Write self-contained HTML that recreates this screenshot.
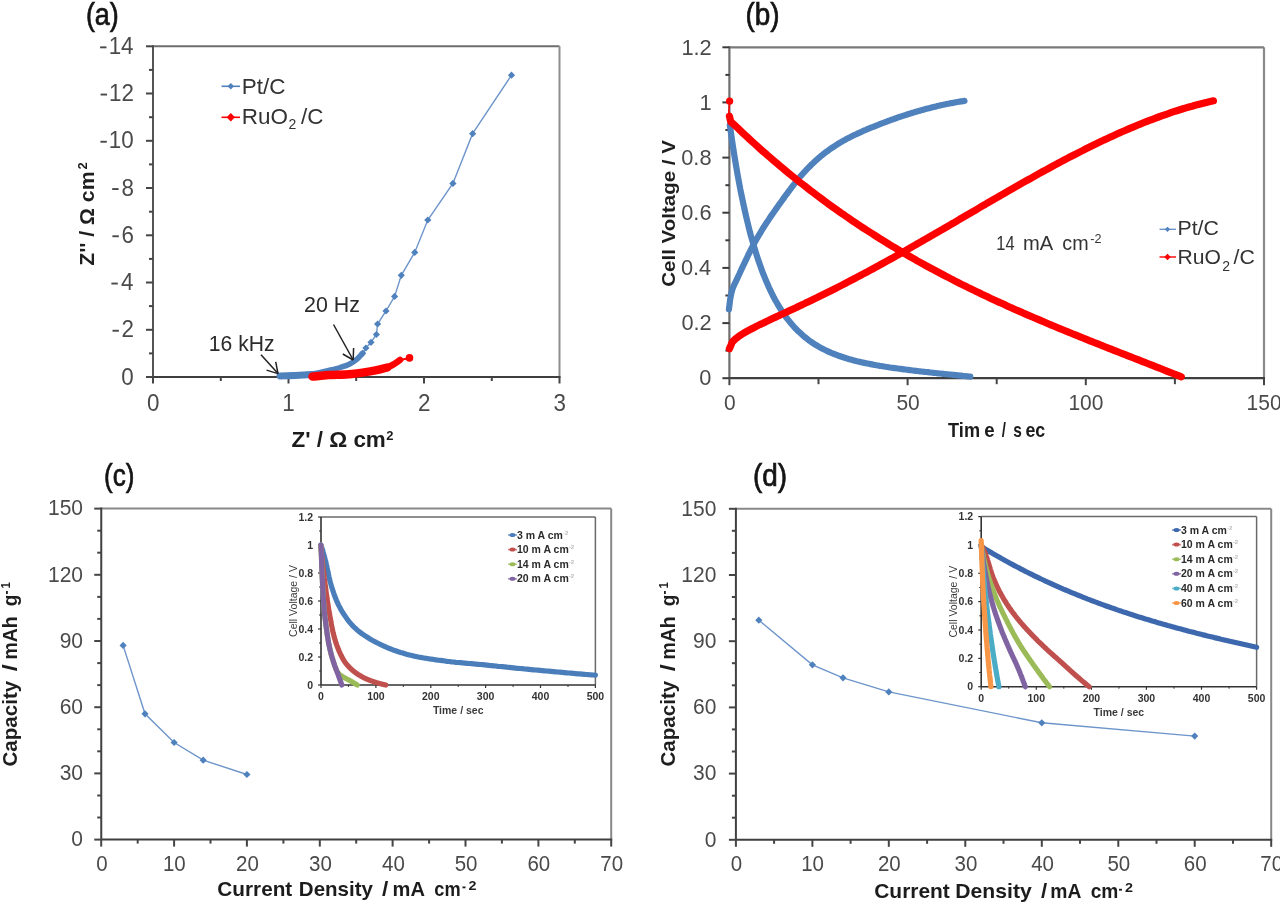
<!DOCTYPE html><html><head><meta charset="utf-8"><style>html,body{margin:0;padding:0;background:#fff;overflow:hidden;}svg{display:block;filter:blur(0.45px);}text{font-family:"Liberation Sans", sans-serif;}</style></head><body>
<svg width="1280" height="903" viewBox="0 0 1280 903">
<rect width="1280" height="903" fill="#fff"/>
<line x1="153" y1="46.3" x2="559.5" y2="46.3" stroke="#6e6e6e" stroke-width="2"/>
<line x1="559.5" y1="46.3" x2="559.5" y2="377" stroke="#8e8e8e" stroke-width="2"/>
<line x1="153" y1="45.3" x2="153" y2="377" stroke="#555" stroke-width="2"/>
<line x1="153" y1="377" x2="560.5" y2="377" stroke="#3f3f3f" stroke-width="2"/>
<line x1="146" y1="377.0" x2="153" y2="377.0" stroke="#454545" stroke-width="2"/>
<line x1="146" y1="329.8" x2="153" y2="329.8" stroke="#454545" stroke-width="2"/>
<line x1="146" y1="282.5" x2="153" y2="282.5" stroke="#454545" stroke-width="2"/>
<line x1="146" y1="235.3" x2="153" y2="235.3" stroke="#454545" stroke-width="2"/>
<line x1="146" y1="188.0" x2="153" y2="188.0" stroke="#454545" stroke-width="2"/>
<line x1="146" y1="140.8" x2="153" y2="140.8" stroke="#454545" stroke-width="2"/>
<line x1="146" y1="93.5" x2="153" y2="93.5" stroke="#454545" stroke-width="2"/>
<line x1="146" y1="46.3" x2="153" y2="46.3" stroke="#454545" stroke-width="2"/>
<line x1="149" y1="353.4" x2="153" y2="353.4" stroke="#454545" stroke-width="2"/>
<line x1="149" y1="306.1" x2="153" y2="306.1" stroke="#454545" stroke-width="2"/>
<line x1="149" y1="258.9" x2="153" y2="258.9" stroke="#454545" stroke-width="2"/>
<line x1="149" y1="211.7" x2="153" y2="211.7" stroke="#454545" stroke-width="2"/>
<line x1="149" y1="164.4" x2="153" y2="164.4" stroke="#454545" stroke-width="2"/>
<line x1="149" y1="117.2" x2="153" y2="117.2" stroke="#454545" stroke-width="2"/>
<line x1="149" y1="69.9" x2="153" y2="69.9" stroke="#454545" stroke-width="2"/>
<line x1="153.0" y1="377" x2="153.0" y2="383.5" stroke="#454545" stroke-width="2"/>
<line x1="288.5" y1="377" x2="288.5" y2="383.5" stroke="#454545" stroke-width="2"/>
<line x1="424.0" y1="377" x2="424.0" y2="383.5" stroke="#454545" stroke-width="2"/>
<line x1="559.5" y1="377" x2="559.5" y2="383.5" stroke="#454545" stroke-width="2"/>
<line x1="220.8" y1="377" x2="220.8" y2="381" stroke="#454545" stroke-width="2"/>
<line x1="356.2" y1="377" x2="356.2" y2="381" stroke="#454545" stroke-width="2"/>
<line x1="491.8" y1="377" x2="491.8" y2="381" stroke="#454545" stroke-width="2"/>
<text transform="translate(133.78,384.50) scale(1,1.04)" font-size="22.4" text-anchor="end" fill="#4a4a4a">0</text>
<text transform="translate(134.03,337.26) scale(1,1.04)" font-size="22.4" text-anchor="end" fill="#4a4a4a">2</text>
<rect x="112.5" y="329.8" width="6.4" height="1.9" fill="#4a4a4a"/>
<text transform="translate(133.56,290.01) scale(1,1.04)" font-size="22.4" text-anchor="end" fill="#4a4a4a">4</text>
<rect x="111.4" y="282.6" width="6.4" height="1.9" fill="#4a4a4a"/>
<text transform="translate(133.88,242.77) scale(1,1.04)" font-size="22.4" text-anchor="end" fill="#4a4a4a">6</text>
<rect x="112.4" y="235.3" width="6.4" height="1.9" fill="#4a4a4a"/>
<text transform="translate(133.87,195.53) scale(1,1.04)" font-size="22.4" text-anchor="end" fill="#4a4a4a">8</text>
<rect x="112.2" y="188.1" width="6.4" height="1.9" fill="#4a4a4a"/>
<text transform="translate(133.78,148.29) scale(1,1.04)" font-size="22.4" text-anchor="end" fill="#4a4a4a">10</text>
<rect x="100.4" y="140.8" width="6.4" height="1.9" fill="#4a4a4a"/>
<text transform="translate(134.03,101.04) scale(1,1.04)" font-size="22.4" text-anchor="end" fill="#4a4a4a">12</text>
<rect x="100.6" y="93.6" width="6.4" height="1.9" fill="#4a4a4a"/>
<text transform="translate(133.56,53.80) scale(1,1.04)" font-size="22.4" text-anchor="end" fill="#4a4a4a">14</text>
<rect x="100.1" y="46.4" width="6.4" height="1.9" fill="#4a4a4a"/>
<text transform="translate(146.97,411.00) scale(1,1.04)" font-size="22.4" text-anchor="start" fill="#4a4a4a">0</text>
<text transform="translate(282.16,411.00) scale(1,1.04)" font-size="22.4" text-anchor="start" fill="#4a4a4a">1</text>
<text transform="translate(417.97,411.00) scale(1,1.04)" font-size="22.4" text-anchor="start" fill="#4a4a4a">2</text>
<text transform="translate(553.54,411.00) scale(1,1.04)" font-size="22.4" text-anchor="start" fill="#4a4a4a">3</text>
<text transform="translate(291.43,446.70) scale(1,1.03)" font-size="21" text-anchor="start" fill="#1c1c1c" font-weight="bold" textLength="94.4" lengthAdjust="spacingAndGlyphs">Z&#39; / Ω cm</text>
<text x="386.2" y="439.5" font-size="13" text-anchor="start" fill="#1c1c1c" font-weight="bold">2</text>
<text transform="translate(94.0,265.7) rotate(-90)" font-size="21" text-anchor="start" fill="#1e1e1e" font-weight="bold" textLength="94.2" lengthAdjust="spacingAndGlyphs">Z&#39;&#39; / Ω cm</text>
<text transform="translate(86.8,169.6) rotate(-90)" font-size="13" text-anchor="start" fill="#1c1c1c" font-weight="bold">2</text>
<text transform="translate(85.88,24.90) scale(1,1.03)" font-size="30" text-anchor="start" fill="#141414" stroke="#141414" stroke-width="0.7" textLength="32.9" lengthAdjust="spacingAndGlyphs">(a)</text>
<path d="M511.5,75.2 L472.6,133.7 L452.9,183.4 L427.8,220.0 L414.7,252.4 L401.3,275.3 L394.6,296.4 L386.0,311.0 L377.6,324.0 L376.4,334.5 L371.0,342.3 L365.9,348.0 L362.6,353.3" fill="none" stroke="#6d95cb" stroke-width="1.4"/>
<path d="M511.5,71.6 L515.1,75.2 L511.5,78.8 L507.9,75.2Z" fill="#4f81bd"/>
<path d="M472.6,130.1 L476.2,133.7 L472.6,137.3 L469.0,133.7Z" fill="#4f81bd"/>
<path d="M452.9,179.8 L456.5,183.4 L452.9,187.0 L449.3,183.4Z" fill="#4f81bd"/>
<path d="M427.8,216.4 L431.4,220.0 L427.8,223.6 L424.2,220.0Z" fill="#4f81bd"/>
<path d="M414.7,248.8 L418.3,252.4 L414.7,256.0 L411.1,252.4Z" fill="#4f81bd"/>
<path d="M401.3,271.7 L404.9,275.3 L401.3,278.9 L397.7,275.3Z" fill="#4f81bd"/>
<path d="M394.6,292.8 L398.2,296.4 L394.6,300.0 L391.0,296.4Z" fill="#4f81bd"/>
<path d="M386.0,307.4 L389.6,311.0 L386.0,314.6 L382.4,311.0Z" fill="#4f81bd"/>
<path d="M377.6,320.4 L381.2,324.0 L377.6,327.6 L374.0,324.0Z" fill="#4f81bd"/>
<path d="M376.4,330.9 L380.0,334.5 L376.4,338.1 L372.8,334.5Z" fill="#4f81bd"/>
<path d="M371.0,338.7 L374.6,342.3 L371.0,345.9 L367.4,342.3Z" fill="#4f81bd"/>
<path d="M365.9,344.4 L369.5,348.0 L365.9,351.6 L362.3,348.0Z" fill="#4f81bd"/>
<path d="M362.6,349.7 L366.2,353.3 L362.6,356.9 L359.0,353.3Z" fill="#4f81bd"/>
<path d="M362.6,353.3 C361.6,354.3 358.9,357.5 356.7,359.3 C354.5,361.1 352.4,362.6 349.7,364.0 C347.0,365.4 343.8,366.4 340.3,367.5 C336.8,368.6 333.9,369.2 328.6,370.4 C323.3,371.6 315.1,373.8 308.7,374.6 C302.3,375.4 294.8,375.2 290.0,375.4 C285.2,375.6 281.7,375.9 280.0,376.0" fill="none" stroke="#4f81bd" stroke-width="5.5" stroke-linecap="round"/>
<path d="M280.0,376.0 L295.0,375.5 L312.0,374.6" fill="none" stroke="#4f81bd" stroke-width="7" stroke-linecap="round"/>
<path d="M312.5,376.6 C315.2,376.4 322.0,375.5 328.6,375.1 C335.2,374.7 344.2,374.8 352.0,374.0 C359.8,373.2 369.6,371.5 375.5,370.4 C381.4,369.3 385.2,368.0 387.2,367.5" fill="none" stroke="#ff0000" stroke-width="8.5" stroke-linecap="round"/>
<path d="M375.5,370.4 C377.4,369.9 384.1,368.6 387.2,367.5 C390.3,366.4 392.0,365.3 394.2,364.0 C396.4,362.7 399.1,360.6 400.1,359.9" fill="none" stroke="#ff0000" stroke-width="6.5" stroke-linecap="round"/>
<circle cx="409.5" cy="357.9" r="3.8" fill="#ff0000"/>
<line x1="400.1" y1="359.9" x2="409.5" y2="357.9" stroke="#ff0000" stroke-width="2"/>
<text transform="translate(208.79,350.80) scale(1,1.03)" font-size="22" text-anchor="start" fill="#2b2b2b" textLength="65.7" lengthAdjust="spacingAndGlyphs">16 kHz</text>
<text transform="translate(304.12,311.80) scale(1,1.03)" font-size="22" text-anchor="start" fill="#2b2b2b" textLength="55.9" lengthAdjust="spacingAndGlyphs">20 Hz</text>
<line x1="261" y1="354.7" x2="278" y2="373.6" stroke="#222" stroke-width="1.5"/><line x1="278" y1="373.6" x2="275.7" y2="361.8" stroke="#222" stroke-width="1.5"/><line x1="278" y1="373.6" x2="266.5" y2="370.1" stroke="#222" stroke-width="1.5"/>
<line x1="333.5" y1="324.5" x2="353.2" y2="360" stroke="#222" stroke-width="1.5"/><line x1="353.2" y1="360" x2="353.6" y2="348.0" stroke="#222" stroke-width="1.5"/><line x1="353.2" y1="360" x2="342.8" y2="354.0" stroke="#222" stroke-width="1.5"/>
<line x1="221.5" y1="86.3" x2="240" y2="86.3" stroke="#4f81bd" stroke-width="1.6"/>
<path d="M230.8,83.1 L234.0,86.3 L230.8,89.5 L227.6,86.3Z" fill="#4f81bd"/>
<text transform="translate(241.76,94.00) scale(1,1.03)" font-size="22" text-anchor="start" fill="#333" textLength="43.7" lengthAdjust="spacingAndGlyphs">Pt/C</text>
<line x1="221.5" y1="117.3" x2="240" y2="117.3" stroke="#ff0000" stroke-width="1.6"/>
<path d="M230.8,113.1 L235.0,117.3 L230.8,121.5 L226.6,117.3Z" fill="#ff0000"/>
<text transform="translate(241.76,123.70) scale(1,1.03)" font-size="22" text-anchor="start" fill="#333" textLength="46.2" lengthAdjust="spacingAndGlyphs">RuO</text>
<text transform="translate(288.59,129.00) scale(1,1.03)" font-size="14" text-anchor="start" fill="#333" textLength="7.8" lengthAdjust="spacingAndGlyphs">2</text>
<text transform="translate(301.10,123.70) scale(1,1.03)" font-size="22" text-anchor="start" fill="#333" textLength="22.4" lengthAdjust="spacingAndGlyphs">/C</text>
<line x1="729.4" y1="47.3" x2="1264" y2="47.3" stroke="#7a7a7a" stroke-width="2.2"/>
<line x1="1264" y1="47.3" x2="1264" y2="378.2" stroke="#8a8a8a" stroke-width="2.2"/>
<line x1="729.4" y1="46.3" x2="729.4" y2="378.2" stroke="#6e6e6e" stroke-width="2.2"/>
<line x1="729.4" y1="378.2" x2="1265" y2="378.2" stroke="#3f3f3f" stroke-width="2.2"/>
<line x1="722.4" y1="378.2" x2="729.4" y2="378.2" stroke="#3a3a3a" stroke-width="2"/>
<line x1="722.4" y1="323.1" x2="729.4" y2="323.1" stroke="#3a3a3a" stroke-width="2"/>
<line x1="722.4" y1="267.9" x2="729.4" y2="267.9" stroke="#3a3a3a" stroke-width="2"/>
<line x1="722.4" y1="212.7" x2="729.4" y2="212.7" stroke="#3a3a3a" stroke-width="2"/>
<line x1="722.4" y1="157.6" x2="729.4" y2="157.6" stroke="#3a3a3a" stroke-width="2"/>
<line x1="722.4" y1="102.4" x2="729.4" y2="102.4" stroke="#3a3a3a" stroke-width="2"/>
<line x1="722.4" y1="47.3" x2="729.4" y2="47.3" stroke="#3a3a3a" stroke-width="2"/>
<line x1="725.4" y1="350.6" x2="729.4" y2="350.6" stroke="#3a3a3a" stroke-width="2"/>
<line x1="725.4" y1="295.5" x2="729.4" y2="295.5" stroke="#3a3a3a" stroke-width="2"/>
<line x1="725.4" y1="240.3" x2="729.4" y2="240.3" stroke="#3a3a3a" stroke-width="2"/>
<line x1="725.4" y1="185.2" x2="729.4" y2="185.2" stroke="#3a3a3a" stroke-width="2"/>
<line x1="725.4" y1="130.0" x2="729.4" y2="130.0" stroke="#3a3a3a" stroke-width="2"/>
<line x1="725.4" y1="74.9" x2="729.4" y2="74.9" stroke="#3a3a3a" stroke-width="2"/>
<line x1="729.4" y1="378.2" x2="729.4" y2="385.2" stroke="#454545" stroke-width="2"/>
<line x1="907.6" y1="378.2" x2="907.6" y2="385.2" stroke="#454545" stroke-width="2"/>
<line x1="1085.8" y1="378.2" x2="1085.8" y2="385.2" stroke="#454545" stroke-width="2"/>
<line x1="1264.0" y1="378.2" x2="1264.0" y2="385.2" stroke="#454545" stroke-width="2"/>
<line x1="818.5" y1="378.2" x2="818.5" y2="384.2" stroke="#454545" stroke-width="2"/>
<line x1="996.7" y1="378.2" x2="996.7" y2="384.2" stroke="#454545" stroke-width="2"/>
<line x1="1174.9" y1="378.2" x2="1174.9" y2="384.2" stroke="#454545" stroke-width="2"/>
<text transform="translate(711.45,385.40) scale(1,1.04)" font-size="21.8" text-anchor="end" fill="#4a4a4a">0</text>
<text transform="translate(711.70,330.25) scale(1,1.04)" font-size="21.8" text-anchor="end" fill="#4a4a4a">0.2</text>
<text transform="translate(711.24,275.10) scale(1,1.04)" font-size="21.8" text-anchor="end" fill="#4a4a4a">0.4</text>
<text transform="translate(711.56,219.95) scale(1,1.04)" font-size="21.8" text-anchor="end" fill="#4a4a4a">0.6</text>
<text transform="translate(711.55,164.80) scale(1,1.04)" font-size="21.8" text-anchor="end" fill="#4a4a4a">0.8</text>
<text transform="translate(711.66,109.65) scale(1,1.04)" font-size="21.8" text-anchor="end" fill="#4a4a4a">1</text>
<text transform="translate(711.70,54.50) scale(1,1.04)" font-size="21.8" text-anchor="end" fill="#4a4a4a">1.2</text>
<text transform="translate(724.06,409.60) scale(1,1.04)" font-size="21" text-anchor="start" fill="#4a4a4a">0</text>
<text transform="translate(896.41,409.60) scale(1,1.04)" font-size="21" text-anchor="start" fill="#4a4a4a">50</text>
<text transform="translate(1068.39,409.60) scale(1,1.04)" font-size="21" text-anchor="start" fill="#4a4a4a">100</text>
<text transform="translate(1246.59,409.60) scale(1,1.04)" font-size="21" text-anchor="start" fill="#4a4a4a">150</text>
<text transform="translate(948.10,437.20) scale(1,1.03)" font-size="20" text-anchor="start" fill="#1c1c1c" font-weight="bold" textLength="31.9" lengthAdjust="spacingAndGlyphs">Tim</text>
<text transform="translate(984.27,437.20) scale(1,1.03)" font-size="20" text-anchor="start" fill="#1c1c1c" font-weight="bold" textLength="10.4" lengthAdjust="spacingAndGlyphs">e</text>
<text transform="translate(1001.65,437.20) scale(1,1.03)" font-size="20" text-anchor="start" fill="#1c1c1c" font-weight="bold" textLength="4.2" lengthAdjust="spacingAndGlyphs">/</text>
<text transform="translate(1013.36,437.20) scale(1,1.03)" font-size="20" text-anchor="start" fill="#1c1c1c" font-weight="bold" textLength="8.6" lengthAdjust="spacingAndGlyphs">s</text>
<text transform="translate(1025.40,437.20) scale(1,1.03)" font-size="20" text-anchor="start" fill="#1c1c1c" font-weight="bold" textLength="19.8" lengthAdjust="spacingAndGlyphs">ec</text>
<text transform="translate(674.8,286.8) rotate(-90)" font-size="19" text-anchor="start" fill="#1e1e1e" font-weight="bold" textLength="146.7" lengthAdjust="spacingAndGlyphs">Cell Voltage / V</text>
<text transform="translate(745.47,24.60) scale(1,1.03)" font-size="30" text-anchor="start" fill="#141414" stroke="#141414" stroke-width="0.7" textLength="34.1" lengthAdjust="spacingAndGlyphs">(b)</text>
<path d="M729.8,124.7 L731.3,135.3 L732.8,145.5 L734.3,155.1 L735.8,164.3 L737.3,173.0 L738.8,181.3 L740.3,189.3 L741.9,196.9 L743.4,204.1 L744.9,211.0 L746.4,217.6 L747.9,223.9 L749.4,229.9 L750.9,235.6 L752.5,241.1 L754.0,246.3 L755.5,251.3 L757.0,256.1 L758.5,260.7 L760.0,265.1 L761.5,269.3 L763.0,273.3 L764.6,277.1 L766.1,280.8 L767.6,284.3 L769.1,287.7 L770.6,290.9 L772.1,294.0 L773.6,297.0 L775.1,299.8 L776.7,302.5 L778.2,305.1 L779.7,307.6 L781.2,310.0 L782.7,312.3 L784.2,314.5 L785.7,316.7 L787.3,318.7 L788.8,320.6 L790.3,322.5 L791.8,324.3 L793.3,326.0 L794.8,327.7 L796.3,329.2 L797.8,330.8 L799.4,332.2 L800.9,333.6 L802.4,335.0 L803.9,336.3 L805.4,337.5 L806.9,338.7 L808.4,339.9 L809.9,341.0 L811.5,342.1 L813.0,343.1 L814.5,344.1 L816.0,345.0 L817.5,345.9 L819.0,346.8 L820.5,347.7 L822.1,348.5 L823.6,349.3 L825.1,350.0 L826.6,350.7 L828.1,351.5 L829.6,352.1 L831.1,352.8 L832.6,353.4 L834.2,354.0 L835.7,354.6 L837.2,355.2 L838.7,355.8 L840.2,356.3 L841.7,356.8 L843.2,357.3 L844.7,357.8 L846.3,358.3 L847.8,358.7 L849.3,359.2 L850.8,359.6 L852.3,360.0 L853.8,360.4 L855.3,360.8 L856.8,361.2 L858.4,361.5 L859.9,361.9 L861.4,362.2 L862.9,362.6 L864.4,362.9 L865.9,363.2 L867.4,363.5 L869.0,363.8 L870.5,364.1 L872.0,364.4 L873.5,364.7 L875.0,365.0 L876.5,365.3 L878.0,365.5 L879.5,365.8 L881.1,366.0 L882.6,366.3 L884.1,366.5 L885.6,366.8 L887.1,367.0 L888.6,367.2 L890.1,367.5 L891.6,367.7 L893.2,367.9 L894.7,368.1 L896.2,368.3 L897.7,368.5 L899.2,368.7 L900.7,368.9 L902.2,369.1 L903.8,369.3 L905.3,369.5 L906.8,369.7 L908.3,369.9 L909.8,370.1 L911.3,370.3 L912.8,370.5 L914.3,370.7 L915.9,370.8 L917.4,371.0 L918.9,371.2 L920.4,371.4 L921.9,371.5 L923.4,371.7 L924.9,371.9 L926.4,372.0 L928.0,372.2 L929.5,372.4 L931.0,372.5 L932.5,372.7 L934.0,372.9 L935.5,373.0 L937.0,373.2 L938.6,373.4 L940.1,373.5 L941.6,373.7 L943.1,373.8 L944.6,374.0 L946.1,374.2 L947.6,374.3 L949.1,374.5 L950.7,374.6 L952.2,374.8 L953.7,374.9 L955.2,375.1 L956.7,375.2 L958.2,375.4 L959.7,375.6 L961.2,375.7 L962.8,375.9 L964.3,376.0 L965.8,376.2 L967.3,376.3 L968.8,376.5 L970.3,376.6" fill="none" stroke="#4f81bd" stroke-width="6.2" stroke-linecap="round" stroke-linejoin="round"/>
<path d="M728.9,309.3 L730.1,299.8 L731.3,293.3 L732.5,289.0 L733.6,286.1 L734.8,283.6 L736.0,281.1 L737.2,278.6 L738.4,276.0 L739.6,273.5 L740.7,271.0 L741.9,268.4 L743.1,265.9 L744.3,263.4 L745.5,260.9 L746.7,258.4 L747.8,255.9 L749.0,253.5 L750.2,251.1 L751.4,248.8 L752.6,246.5 L753.8,244.3 L754.9,242.1 L756.1,239.9 L757.3,237.9 L758.5,235.8 L759.7,233.8 L760.9,231.8 L762.0,229.9 L763.2,228.0 L764.4,226.1 L765.6,224.3 L766.8,222.4 L768.0,220.7 L769.2,218.9 L770.3,217.1 L771.5,215.4 L772.7,213.7 L773.9,212.0 L775.1,210.3 L776.3,208.6 L777.4,207.0 L778.6,205.3 L779.8,203.6 L781.0,202.0 L782.2,200.3 L783.4,198.7 L784.5,197.0 L785.7,195.4 L786.9,193.8 L788.1,192.2 L789.3,190.6 L790.5,189.0 L791.6,187.4 L792.8,185.9 L794.0,184.4 L795.2,182.9 L796.4,181.4 L797.6,179.9 L798.8,178.5 L799.9,177.0 L801.1,175.6 L802.3,174.3 L803.5,172.9 L804.7,171.6 L805.9,170.4 L807.0,169.1 L808.2,167.9 L809.4,166.7 L810.6,165.5 L811.8,164.3 L813.0,163.2 L814.1,162.1 L815.3,161.0 L816.5,159.9 L817.7,158.9 L818.9,157.8 L820.1,156.8 L821.2,155.8 L822.4,154.9 L823.6,153.9 L824.8,153.0 L826.0,152.1 L827.2,151.2 L828.3,150.4 L829.5,149.5 L830.7,148.7 L831.9,147.9 L833.1,147.1 L834.3,146.3 L835.5,145.5 L836.6,144.8 L837.8,144.0 L839.0,143.3 L840.2,142.6 L841.4,141.9 L842.6,141.2 L843.7,140.5 L844.9,139.9 L846.1,139.2 L847.3,138.6 L848.5,138.0 L849.7,137.4 L850.8,136.8 L852.0,136.2 L853.2,135.6 L854.4,135.0 L855.6,134.5 L856.8,133.9 L857.9,133.4 L859.1,132.8 L860.3,132.3 L861.5,131.8 L862.7,131.2 L863.9,130.7 L865.1,130.2 L866.2,129.7 L867.4,129.2 L868.6,128.7 L869.8,128.2 L871.0,127.7 L872.2,127.2 L873.3,126.8 L874.5,126.3 L875.7,125.8 L876.9,125.3 L878.1,124.9 L879.3,124.4 L880.4,123.9 L881.6,123.5 L882.8,123.0 L884.0,122.6 L885.2,122.1 L886.4,121.7 L887.5,121.2 L888.7,120.8 L889.9,120.4 L891.1,119.9 L892.3,119.5 L893.5,119.1 L894.6,118.7 L895.8,118.3 L897.0,117.8 L898.2,117.4 L899.4,117.0 L900.6,116.6 L901.8,116.2 L902.9,115.8 L904.1,115.5 L905.3,115.1 L906.5,114.7 L907.7,114.3 L908.9,113.9 L910.0,113.6 L911.2,113.2 L912.4,112.8 L913.6,112.5 L914.8,112.1 L916.0,111.8 L917.1,111.4 L918.3,111.1 L919.5,110.7 L920.7,110.4 L921.9,110.1 L923.1,109.7 L924.2,109.4 L925.4,109.1 L926.6,108.8 L927.8,108.5 L929.0,108.2 L930.2,107.9 L931.4,107.6 L932.5,107.3 L933.7,107.0 L934.9,106.7 L936.1,106.4 L937.3,106.1 L938.5,105.8 L939.6,105.6 L940.8,105.3 L942.0,105.0 L943.2,104.8 L944.4,104.5 L945.6,104.3 L946.7,104.0 L947.9,103.8 L949.1,103.6 L950.3,103.3 L951.5,103.1 L952.7,102.9 L953.8,102.7 L955.0,102.4 L956.2,102.2 L957.4,102.0 L958.6,101.8 L959.8,101.6 L960.9,101.4 L962.1,101.3 L963.3,101.1 L964.5,100.9" fill="none" stroke="#4f81bd" stroke-width="6.2" stroke-linecap="round" stroke-linejoin="round"/>
<path d="M729.4,116.2 L730.8,121.8 L734.7,125.3 L737.6,127.9 L740.4,130.6 L743.2,133.3 L746.0,135.9 L748.8,138.5 L751.6,141.1 L754.4,143.6 L757.2,146.2 L760.0,148.7 L762.8,151.2 L765.6,153.6 L768.4,156.1 L771.3,158.5 L774.1,160.9 L776.9,163.3 L779.7,165.7 L782.5,168.1 L785.3,170.4 L788.1,172.7 L790.9,175.0 L793.7,177.3 L796.5,179.5 L799.3,181.8 L802.2,184.0 L805.0,186.2 L807.8,188.4 L810.6,190.6 L813.4,192.7 L816.2,194.8 L819.0,196.9 L821.8,199.0 L824.6,201.1 L827.4,203.2 L830.2,205.2 L833.0,207.2 L835.9,209.2 L838.7,211.2 L841.5,213.2 L844.3,215.1 L847.1,217.1 L849.9,219.0 L852.7,220.9 L855.5,222.8 L858.3,224.7 L861.1,226.6 L863.9,228.4 L866.8,230.2 L869.6,232.0 L872.4,233.8 L875.2,235.6 L878.0,237.4 L880.8,239.2 L883.6,240.9 L886.4,242.6 L889.2,244.4 L892.0,246.1 L894.8,247.7 L897.6,249.4 L900.5,251.1 L903.3,252.7 L906.1,254.4 L908.9,256.0 L911.7,257.6 L914.5,259.2 L917.3,260.8 L920.1,262.3 L922.9,263.9 L925.7,265.5 L928.5,267.0 L931.3,268.5 L934.2,270.0 L937.0,271.5 L939.8,273.0 L942.6,274.5 L945.4,276.0 L948.2,277.4 L951.0,278.9 L953.8,280.3 L956.6,281.8 L959.4,283.2 L962.2,284.6 L965.1,286.0 L967.9,287.4 L970.7,288.7 L973.5,290.1 L976.3,291.5 L979.1,292.8 L981.9,294.2 L984.7,295.5 L987.5,296.8 L990.3,298.2 L993.1,299.5 L995.9,300.8 L998.8,302.1 L1001.6,303.3 L1004.4,304.6 L1007.2,305.9 L1010.0,307.2 L1012.8,308.4 L1015.6,309.7 L1018.4,310.9 L1021.2,312.1 L1024.0,313.4 L1026.8,314.6 L1029.7,315.8 L1032.5,317.0 L1035.3,318.2 L1038.1,319.4 L1040.9,320.6 L1043.7,321.8 L1046.5,323.0 L1049.3,324.2 L1052.1,325.4 L1054.9,326.5 L1057.7,327.7 L1060.5,328.9 L1063.4,330.0 L1066.2,331.2 L1069.0,332.3 L1071.8,333.5 L1074.6,334.6 L1077.4,335.7 L1080.2,336.9 L1083.0,338.0 L1085.8,339.1 L1088.6,340.3 L1091.4,341.4 L1094.2,342.5 L1097.1,343.6 L1099.9,344.7 L1102.7,345.9 L1105.5,347.0 L1108.3,348.1 L1111.1,349.2 L1113.9,350.3 L1116.7,351.4 L1119.5,352.5 L1122.3,353.6 L1125.1,354.7 L1128.0,355.8 L1130.8,356.9 L1133.6,358.0 L1136.4,359.1 L1139.2,360.2 L1142.0,361.3 L1144.8,362.4 L1147.6,363.5 L1150.4,364.6 L1153.2,365.7 L1156.0,366.8 L1158.8,367.9 L1161.7,369.0 L1164.5,370.2 L1167.3,371.3 L1170.1,372.4 L1172.9,373.5 L1175.7,374.6 L1178.5,375.7 L1181.3,376.8" fill="none" stroke="#ff0000" stroke-width="7.2" stroke-linecap="round" stroke-linejoin="round"/>
<path d="M729.4,348.8 L732.4,341.9 L735.5,338.9 L738.5,336.6 L741.6,334.5 L744.6,332.7 L747.7,330.9 L750.7,329.3 L753.8,327.7 L756.8,326.1 L759.8,324.6 L762.9,323.2 L765.9,321.7 L769.0,320.3 L772.0,318.8 L775.1,317.4 L778.1,316.0 L781.1,314.6 L784.2,313.2 L787.2,311.8 L790.3,310.3 L793.3,308.9 L796.4,307.5 L799.4,306.0 L802.5,304.6 L805.5,303.1 L808.5,301.7 L811.6,300.2 L814.6,298.7 L817.7,297.3 L820.7,295.8 L823.8,294.3 L826.8,292.8 L829.9,291.2 L832.9,289.7 L835.9,288.2 L839.0,286.6 L842.0,285.1 L845.1,283.5 L848.1,281.9 L851.2,280.3 L854.2,278.7 L857.2,277.1 L860.3,275.5 L863.3,273.9 L866.4,272.3 L869.4,270.6 L872.5,269.0 L875.5,267.3 L878.6,265.7 L881.6,264.0 L884.6,262.3 L887.7,260.6 L890.7,259.0 L893.8,257.3 L896.8,255.5 L899.9,253.8 L902.9,252.1 L906.0,250.4 L909.0,248.7 L912.0,246.9 L915.1,245.2 L918.1,243.4 L921.2,241.7 L924.2,239.9 L927.3,238.2 L930.3,236.4 L933.3,234.7 L936.4,232.9 L939.4,231.1 L942.5,229.4 L945.5,227.6 L948.6,225.8 L951.6,224.0 L954.7,222.3 L957.7,220.5 L960.7,218.7 L963.8,216.9 L966.8,215.1 L969.9,213.3 L972.9,211.6 L976.0,209.8 L979.0,208.0 L982.0,206.2 L985.1,204.5 L988.1,202.7 L991.2,200.9 L994.2,199.1 L997.3,197.4 L1000.3,195.6 L1003.4,193.9 L1006.4,192.1 L1009.4,190.4 L1012.5,188.6 L1015.5,186.9 L1018.6,185.1 L1021.6,183.4 L1024.7,181.7 L1027.7,180.0 L1030.8,178.3 L1033.8,176.6 L1036.8,174.9 L1039.9,173.2 L1042.9,171.5 L1046.0,169.8 L1049.0,168.2 L1052.1,166.5 L1055.1,164.9 L1058.1,163.3 L1061.2,161.6 L1064.2,160.0 L1067.3,158.4 L1070.3,156.8 L1073.4,155.2 L1076.4,153.7 L1079.5,152.1 L1082.5,150.6 L1085.5,149.0 L1088.6,147.5 L1091.6,146.0 L1094.7,144.5 L1097.7,143.1 L1100.8,141.6 L1103.8,140.1 L1106.9,138.7 L1109.9,137.3 L1112.9,135.9 L1116.0,134.5 L1119.0,133.1 L1122.1,131.8 L1125.1,130.5 L1128.2,129.1 L1131.2,127.8 L1134.2,126.6 L1137.3,125.3 L1140.3,124.1 L1143.4,122.8 L1146.4,121.6 L1149.5,120.4 L1152.5,119.3 L1155.6,118.1 L1158.6,117.0 L1161.6,115.9 L1164.7,114.8 L1167.7,113.8 L1170.8,112.7 L1173.8,111.7 L1176.9,110.7 L1179.9,109.8 L1183.0,108.8 L1186.0,107.9 L1189.0,107.0 L1192.1,106.2 L1195.1,105.3 L1198.2,104.5 L1201.2,103.7 L1204.3,102.9 L1207.3,102.2 L1210.3,101.5 L1213.4,100.8" fill="none" stroke="#ff0000" stroke-width="7.2" stroke-linecap="round" stroke-linejoin="round"/>
<circle cx="729.6" cy="101.2" r="3.6" fill="#ff0000"/>
<line x1="729.6" y1="101.2" x2="728.5" y2="116.4" stroke="#ff0000" stroke-width="1.5"/>
<text transform="translate(996.34,250.30) scale(1,1.03)" font-size="20" text-anchor="start" fill="#333" textLength="18.3" lengthAdjust="spacingAndGlyphs">14</text>
<text transform="translate(1022.96,250.30) scale(1,1.03)" font-size="20" text-anchor="start" fill="#333" textLength="30.2" lengthAdjust="spacingAndGlyphs">mA</text>
<text transform="translate(1062.36,250.30) scale(1,1.03)" font-size="20" text-anchor="start" fill="#333" textLength="26.3" lengthAdjust="spacingAndGlyphs">cm</text>
<text transform="translate(1090.34,243.30) scale(1,1.03)" font-size="12" text-anchor="start" fill="#333" textLength="11.2" lengthAdjust="spacingAndGlyphs">-2</text>
<line x1="1159.5" y1="229.3" x2="1176" y2="229.3" stroke="#6d95cb" stroke-width="1.4"/>
<path d="M1167.5,226.7 L1170.1,229.3 L1167.5,231.9 L1164.9,229.3Z" fill="#4f81bd"/>
<text transform="translate(1177.46,235.30) scale(1,1.03)" font-size="20" text-anchor="start" fill="#333" textLength="41.4" lengthAdjust="spacingAndGlyphs">Pt/C</text>
<line x1="1159.5" y1="257" x2="1176" y2="257" stroke="#ff0000" stroke-width="1.4"/>
<path d="M1167.5,253.8 L1170.7,257.0 L1167.5,260.2 L1164.3,257.0Z" fill="#ff0000"/>
<text transform="translate(1177.47,263.60) scale(1,1.03)" font-size="20" text-anchor="start" fill="#333" textLength="43.4" lengthAdjust="spacingAndGlyphs">RuO</text>
<text transform="translate(1222.19,270.60) scale(1,1.03)" font-size="13.5" text-anchor="start" fill="#333" textLength="7.8" lengthAdjust="spacingAndGlyphs">2</text>
<text transform="translate(1233.60,263.60) scale(1,1.03)" font-size="20" text-anchor="start" fill="#333" textLength="21.3" lengthAdjust="spacingAndGlyphs">/C</text>
<line x1="101.25" y1="508.6" x2="611.2" y2="508.6" stroke="#888" stroke-width="2"/>
<line x1="611.2" y1="508.6" x2="611.2" y2="839.6" stroke="#888" stroke-width="2"/>
<line x1="101.25" y1="507.6" x2="101.25" y2="839.6" stroke="#404040" stroke-width="2"/>
<line x1="101.25" y1="839.6" x2="612.2" y2="839.6" stroke="#3f3f3f" stroke-width="2"/>
<line x1="94.25" y1="839.6" x2="101.25" y2="839.6" stroke="#454545" stroke-width="2"/>
<line x1="94.25" y1="773.4" x2="101.25" y2="773.4" stroke="#454545" stroke-width="2"/>
<line x1="94.25" y1="707.2" x2="101.25" y2="707.2" stroke="#454545" stroke-width="2"/>
<line x1="94.25" y1="641.0" x2="101.25" y2="641.0" stroke="#454545" stroke-width="2"/>
<line x1="94.25" y1="574.8" x2="101.25" y2="574.8" stroke="#454545" stroke-width="2"/>
<line x1="94.25" y1="508.6" x2="101.25" y2="508.6" stroke="#454545" stroke-width="2"/>
<line x1="97.25" y1="817.5" x2="101.25" y2="817.5" stroke="#454545" stroke-width="2"/>
<line x1="97.25" y1="795.5" x2="101.25" y2="795.5" stroke="#454545" stroke-width="2"/>
<line x1="97.25" y1="751.3" x2="101.25" y2="751.3" stroke="#454545" stroke-width="2"/>
<line x1="97.25" y1="729.3" x2="101.25" y2="729.3" stroke="#454545" stroke-width="2"/>
<line x1="97.25" y1="685.1" x2="101.25" y2="685.1" stroke="#454545" stroke-width="2"/>
<line x1="97.25" y1="663.1" x2="101.25" y2="663.1" stroke="#454545" stroke-width="2"/>
<line x1="97.25" y1="618.9" x2="101.25" y2="618.9" stroke="#454545" stroke-width="2"/>
<line x1="97.25" y1="596.9" x2="101.25" y2="596.9" stroke="#454545" stroke-width="2"/>
<line x1="97.25" y1="552.7" x2="101.25" y2="552.7" stroke="#454545" stroke-width="2"/>
<line x1="97.25" y1="530.7" x2="101.25" y2="530.7" stroke="#454545" stroke-width="2"/>
<line x1="101.2" y1="839.6" x2="101.2" y2="846.6" stroke="#454545" stroke-width="2"/>
<line x1="174.1" y1="839.6" x2="174.1" y2="846.6" stroke="#454545" stroke-width="2"/>
<line x1="246.9" y1="839.6" x2="246.9" y2="846.6" stroke="#454545" stroke-width="2"/>
<line x1="319.8" y1="839.6" x2="319.8" y2="846.6" stroke="#454545" stroke-width="2"/>
<line x1="392.6" y1="839.6" x2="392.6" y2="846.6" stroke="#454545" stroke-width="2"/>
<line x1="465.5" y1="839.6" x2="465.5" y2="846.6" stroke="#454545" stroke-width="2"/>
<line x1="538.4" y1="839.6" x2="538.4" y2="846.6" stroke="#454545" stroke-width="2"/>
<line x1="611.2" y1="839.6" x2="611.2" y2="846.6" stroke="#454545" stroke-width="2"/>
<line x1="137.7" y1="839.6" x2="137.7" y2="843.6" stroke="#454545" stroke-width="2"/>
<line x1="210.5" y1="839.6" x2="210.5" y2="843.6" stroke="#454545" stroke-width="2"/>
<line x1="283.4" y1="839.6" x2="283.4" y2="843.6" stroke="#454545" stroke-width="2"/>
<line x1="356.2" y1="839.6" x2="356.2" y2="843.6" stroke="#454545" stroke-width="2"/>
<line x1="429.1" y1="839.6" x2="429.1" y2="843.6" stroke="#454545" stroke-width="2"/>
<line x1="501.9" y1="839.6" x2="501.9" y2="843.6" stroke="#454545" stroke-width="2"/>
<line x1="574.8" y1="839.6" x2="574.8" y2="843.6" stroke="#454545" stroke-width="2"/>
<text transform="translate(83.02,846.40) scale(1,1.04)" font-size="21" text-anchor="end" fill="#4a4a4a">0</text>
<text transform="translate(83.02,780.20) scale(1,1.04)" font-size="21" text-anchor="end" fill="#4a4a4a">30</text>
<text transform="translate(83.02,714.00) scale(1,1.04)" font-size="21" text-anchor="end" fill="#4a4a4a">60</text>
<text transform="translate(83.02,647.80) scale(1,1.04)" font-size="21" text-anchor="end" fill="#4a4a4a">90</text>
<text transform="translate(83.02,581.60) scale(1,1.04)" font-size="21" text-anchor="end" fill="#4a4a4a">120</text>
<text transform="translate(83.02,515.40) scale(1,1.04)" font-size="21" text-anchor="end" fill="#4a4a4a">150</text>
<text transform="translate(96.15,870.80) scale(1,1.04)" font-size="20.5" text-anchor="start" fill="#4a4a4a">0</text>
<text transform="translate(162.92,870.80) scale(1,1.04)" font-size="20.5" text-anchor="start" fill="#4a4a4a">10</text>
<text transform="translate(236.03,870.80) scale(1,1.04)" font-size="20.5" text-anchor="start" fill="#4a4a4a">20</text>
<text transform="translate(309.01,870.80) scale(1,1.04)" font-size="20.5" text-anchor="start" fill="#4a4a4a">30</text>
<text transform="translate(382.01,870.80) scale(1,1.04)" font-size="20.5" text-anchor="start" fill="#4a4a4a">40</text>
<text transform="translate(454.69,870.80) scale(1,1.04)" font-size="20.5" text-anchor="start" fill="#4a4a4a">50</text>
<text transform="translate(527.43,870.80) scale(1,1.04)" font-size="20.5" text-anchor="start" fill="#4a4a4a">60</text>
<text transform="translate(600.27,870.80) scale(1,1.04)" font-size="20.5" text-anchor="start" fill="#4a4a4a">70</text>
<path d="M123.1,645.4 L145.0,713.8 L174.1,742.5 L203.2,760.2 L246.9,774.5" fill="none" stroke="#6d95cb" stroke-width="1.4"/>
<path d="M123.1,641.8 L126.7,645.4 L123.1,649.0 L119.5,645.4Z" fill="#4f81bd"/>
<path d="M145.0,710.2 L148.6,713.8 L145.0,717.4 L141.4,713.8Z" fill="#4f81bd"/>
<path d="M174.1,738.9 L177.7,742.5 L174.1,746.1 L170.5,742.5Z" fill="#4f81bd"/>
<path d="M203.2,756.6 L206.8,760.2 L203.2,763.8 L199.6,760.2Z" fill="#4f81bd"/>
<path d="M246.9,770.9 L250.5,774.5 L246.9,778.1 L243.3,774.5Z" fill="#4f81bd"/>
<text transform="translate(104.03,486.30) scale(1,1.03)" font-size="30" text-anchor="start" fill="#141414" stroke="#141414" stroke-width="0.7" textLength="30.4" lengthAdjust="spacingAndGlyphs">(c)</text>
<text transform="translate(217.35,895.50) scale(1,1.03)" font-size="20" text-anchor="start" fill="#1c1c1c" font-weight="bold" textLength="74.9" lengthAdjust="spacingAndGlyphs">Current</text>
<text transform="translate(298.83,895.50) scale(1,1.03)" font-size="20" text-anchor="start" fill="#1c1c1c" font-weight="bold" textLength="74.1" lengthAdjust="spacingAndGlyphs">Density</text>
<text transform="translate(381.98,895.50) scale(1,1.03)" font-size="20" text-anchor="start" fill="#1c1c1c" font-weight="bold" textLength="6.3" lengthAdjust="spacingAndGlyphs">/</text>
<text transform="translate(392.58,895.50) scale(1,1.03)" font-size="20" text-anchor="start" fill="#1c1c1c" font-weight="bold" textLength="32.4" lengthAdjust="spacingAndGlyphs">mA</text>
<text transform="translate(434.29,895.50) scale(1,1.03)" font-size="20" text-anchor="start" fill="#1c1c1c" font-weight="bold" textLength="26.3" lengthAdjust="spacingAndGlyphs">cm</text>
<rect x="462.5" y="886.5" width="3" height="1.8" fill="#1c1c1c"/>
<text transform="translate(468.50,890.10) scale(1,1.03)" font-size="12.5" text-anchor="start" fill="#1c1c1c" font-weight="bold" textLength="8.0" lengthAdjust="spacingAndGlyphs">2</text>
<text transform="translate(17.0,766.5) rotate(-90)" font-size="20" text-anchor="start" fill="#1e1e1e" font-weight="bold" textLength="85.7" lengthAdjust="spacingAndGlyphs">Capacity</text>
<text transform="translate(17.0,671.2) rotate(-90)" font-size="20" text-anchor="start" fill="#1e1e1e" font-weight="bold" textLength="6.9" lengthAdjust="spacingAndGlyphs">/</text>
<text transform="translate(17.0,659.6) rotate(-90)" font-size="20" text-anchor="start" fill="#1e1e1e" font-weight="bold" textLength="43.2" lengthAdjust="spacingAndGlyphs">mAh</text>
<text transform="translate(17.0,606.3) rotate(-90)" font-size="20" text-anchor="start" fill="#1e1e1e" font-weight="bold" textLength="11.7" lengthAdjust="spacingAndGlyphs">g</text>
<rect x="6.0" y="591.0" width="1.8" height="3" fill="#1c1c1c"/>
<text transform="translate(9.7,588.6) rotate(-90)" font-size="12.5" text-anchor="start" fill="#1e1e1e" font-weight="bold" textLength="6.3" lengthAdjust="spacingAndGlyphs">1</text>
<line x1="735.9" y1="508.75" x2="1271.2" y2="508.75" stroke="#888" stroke-width="2"/>
<line x1="1271.2" y1="508.75" x2="1271.2" y2="839.8" stroke="#888" stroke-width="2"/>
<line x1="735.9" y1="507.75" x2="735.9" y2="839.8" stroke="#404040" stroke-width="2"/>
<line x1="735.9" y1="839.8" x2="1272.2" y2="839.8" stroke="#3f3f3f" stroke-width="2"/>
<line x1="728.9" y1="839.8" x2="735.9" y2="839.8" stroke="#454545" stroke-width="2"/>
<line x1="728.9" y1="773.6" x2="735.9" y2="773.6" stroke="#454545" stroke-width="2"/>
<line x1="728.9" y1="707.4" x2="735.9" y2="707.4" stroke="#454545" stroke-width="2"/>
<line x1="728.9" y1="641.2" x2="735.9" y2="641.2" stroke="#454545" stroke-width="2"/>
<line x1="728.9" y1="575.0" x2="735.9" y2="575.0" stroke="#454545" stroke-width="2"/>
<line x1="728.9" y1="508.8" x2="735.9" y2="508.8" stroke="#454545" stroke-width="2"/>
<line x1="731.9" y1="817.7" x2="735.9" y2="817.7" stroke="#454545" stroke-width="2"/>
<line x1="731.9" y1="795.7" x2="735.9" y2="795.7" stroke="#454545" stroke-width="2"/>
<line x1="731.9" y1="751.5" x2="735.9" y2="751.5" stroke="#454545" stroke-width="2"/>
<line x1="731.9" y1="729.4" x2="735.9" y2="729.4" stroke="#454545" stroke-width="2"/>
<line x1="731.9" y1="685.3" x2="735.9" y2="685.3" stroke="#454545" stroke-width="2"/>
<line x1="731.9" y1="663.2" x2="735.9" y2="663.2" stroke="#454545" stroke-width="2"/>
<line x1="731.9" y1="619.1" x2="735.9" y2="619.1" stroke="#454545" stroke-width="2"/>
<line x1="731.9" y1="597.0" x2="735.9" y2="597.0" stroke="#454545" stroke-width="2"/>
<line x1="731.9" y1="552.9" x2="735.9" y2="552.9" stroke="#454545" stroke-width="2"/>
<line x1="731.9" y1="530.8" x2="735.9" y2="530.8" stroke="#454545" stroke-width="2"/>
<line x1="735.9" y1="839.8" x2="735.9" y2="846.8" stroke="#454545" stroke-width="2"/>
<line x1="812.4" y1="839.8" x2="812.4" y2="846.8" stroke="#454545" stroke-width="2"/>
<line x1="888.8" y1="839.8" x2="888.8" y2="846.8" stroke="#454545" stroke-width="2"/>
<line x1="965.3" y1="839.8" x2="965.3" y2="846.8" stroke="#454545" stroke-width="2"/>
<line x1="1041.8" y1="839.8" x2="1041.8" y2="846.8" stroke="#454545" stroke-width="2"/>
<line x1="1118.3" y1="839.8" x2="1118.3" y2="846.8" stroke="#454545" stroke-width="2"/>
<line x1="1194.7" y1="839.8" x2="1194.7" y2="846.8" stroke="#454545" stroke-width="2"/>
<line x1="1271.2" y1="839.8" x2="1271.2" y2="846.8" stroke="#454545" stroke-width="2"/>
<line x1="774.1" y1="839.8" x2="774.1" y2="843.8" stroke="#454545" stroke-width="2"/>
<line x1="850.6" y1="839.8" x2="850.6" y2="843.8" stroke="#454545" stroke-width="2"/>
<line x1="927.1" y1="839.8" x2="927.1" y2="843.8" stroke="#454545" stroke-width="2"/>
<line x1="1003.5" y1="839.8" x2="1003.5" y2="843.8" stroke="#454545" stroke-width="2"/>
<line x1="1080.0" y1="839.8" x2="1080.0" y2="843.8" stroke="#454545" stroke-width="2"/>
<line x1="1156.5" y1="839.8" x2="1156.5" y2="843.8" stroke="#454545" stroke-width="2"/>
<line x1="1233.0" y1="839.8" x2="1233.0" y2="843.8" stroke="#454545" stroke-width="2"/>
<text transform="translate(716.32,846.60) scale(1,1.04)" font-size="21" text-anchor="end" fill="#4a4a4a">0</text>
<text transform="translate(716.32,780.39) scale(1,1.04)" font-size="21" text-anchor="end" fill="#4a4a4a">30</text>
<text transform="translate(716.32,714.18) scale(1,1.04)" font-size="21" text-anchor="end" fill="#4a4a4a">60</text>
<text transform="translate(716.32,647.97) scale(1,1.04)" font-size="21" text-anchor="end" fill="#4a4a4a">90</text>
<text transform="translate(716.32,581.76) scale(1,1.04)" font-size="21" text-anchor="end" fill="#4a4a4a">120</text>
<text transform="translate(716.32,515.55) scale(1,1.04)" font-size="21" text-anchor="end" fill="#4a4a4a">150</text>
<text transform="translate(730.80,870.80) scale(1,1.04)" font-size="20.5" text-anchor="start" fill="#4a4a4a">0</text>
<text transform="translate(801.19,870.80) scale(1,1.04)" font-size="20.5" text-anchor="start" fill="#4a4a4a">10</text>
<text transform="translate(877.93,870.80) scale(1,1.04)" font-size="20.5" text-anchor="start" fill="#4a4a4a">20</text>
<text transform="translate(954.52,870.80) scale(1,1.04)" font-size="20.5" text-anchor="start" fill="#4a4a4a">30</text>
<text transform="translate(1031.15,870.80) scale(1,1.04)" font-size="20.5" text-anchor="start" fill="#4a4a4a">40</text>
<text transform="translate(1107.45,870.80) scale(1,1.04)" font-size="20.5" text-anchor="start" fill="#4a4a4a">50</text>
<text transform="translate(1183.81,870.80) scale(1,1.04)" font-size="20.5" text-anchor="start" fill="#4a4a4a">60</text>
<text transform="translate(1260.27,870.80) scale(1,1.04)" font-size="20.5" text-anchor="start" fill="#4a4a4a">70</text>
<path d="M758.8,620.2 L812.4,664.8 L843.0,677.8 L888.8,691.9 L1041.8,722.8 L1194.7,736.1" fill="none" stroke="#6d95cb" stroke-width="1.4"/>
<path d="M758.8,616.6 L762.4,620.2 L758.8,623.8 L755.2,620.2Z" fill="#4f81bd"/>
<path d="M812.4,661.2 L816.0,664.8 L812.4,668.4 L808.8,664.8Z" fill="#4f81bd"/>
<path d="M843.0,674.2 L846.6,677.8 L843.0,681.4 L839.4,677.8Z" fill="#4f81bd"/>
<path d="M888.8,688.3 L892.4,691.9 L888.8,695.5 L885.2,691.9Z" fill="#4f81bd"/>
<path d="M1041.8,719.2 L1045.4,722.8 L1041.8,726.4 L1038.2,722.8Z" fill="#4f81bd"/>
<path d="M1194.7,732.5 L1198.3,736.1 L1194.7,739.7 L1191.1,736.1Z" fill="#4f81bd"/>
<text transform="translate(752.97,486.30) scale(1,1.03)" font-size="30" text-anchor="start" fill="#141414" stroke="#141414" stroke-width="0.7" textLength="34.1" lengthAdjust="spacingAndGlyphs">(d)</text>
<text transform="translate(874.24,897.80) scale(1,1.03)" font-size="20" text-anchor="start" fill="#1c1c1c" font-weight="bold" textLength="75.6" lengthAdjust="spacingAndGlyphs">Current</text>
<text transform="translate(955.28,897.80) scale(1,1.03)" font-size="20" text-anchor="start" fill="#1c1c1c" font-weight="bold" textLength="76.5" lengthAdjust="spacingAndGlyphs">Density</text>
<text transform="translate(1040.88,897.80) scale(1,1.03)" font-size="20" text-anchor="start" fill="#1c1c1c" font-weight="bold" textLength="6.2" lengthAdjust="spacingAndGlyphs">/</text>
<text transform="translate(1050.33,897.80) scale(1,1.03)" font-size="20" text-anchor="start" fill="#1c1c1c" font-weight="bold" textLength="31.1" lengthAdjust="spacingAndGlyphs">mA</text>
<text transform="translate(1090.65,897.80) scale(1,1.03)" font-size="20" text-anchor="start" fill="#1c1c1c" font-weight="bold" textLength="27.7" lengthAdjust="spacingAndGlyphs">cm</text>
<rect x="1119.0" y="888.8" width="3" height="1.8" fill="#1c1c1c"/>
<text transform="translate(1125.00,892.40) scale(1,1.03)" font-size="12.5" text-anchor="start" fill="#1c1c1c" font-weight="bold" textLength="8.0" lengthAdjust="spacingAndGlyphs">2</text>
<text transform="translate(675.0,766.5) rotate(-90)" font-size="20" text-anchor="start" fill="#1e1e1e" font-weight="bold" textLength="85.7" lengthAdjust="spacingAndGlyphs">Capacity</text>
<text transform="translate(675.0,671.2) rotate(-90)" font-size="20" text-anchor="start" fill="#1e1e1e" font-weight="bold" textLength="6.9" lengthAdjust="spacingAndGlyphs">/</text>
<text transform="translate(675.0,659.6) rotate(-90)" font-size="20" text-anchor="start" fill="#1e1e1e" font-weight="bold" textLength="43.2" lengthAdjust="spacingAndGlyphs">mAh</text>
<text transform="translate(675.0,606.3) rotate(-90)" font-size="20" text-anchor="start" fill="#1e1e1e" font-weight="bold" textLength="11.7" lengthAdjust="spacingAndGlyphs">g</text>
<rect x="664.0" y="591.0" width="1.8" height="3" fill="#1c1c1c"/>
<text transform="translate(667.7,588.6) rotate(-90)" font-size="12.5" text-anchor="start" fill="#1e1e1e" font-weight="bold" textLength="6.3" lengthAdjust="spacingAndGlyphs">1</text>
<rect x="321" y="517" width="274.4" height="168" fill="#fff"/>
<line x1="321" y1="517" x2="595.4" y2="517" stroke="#6a6a6a" stroke-width="1.5"/>
<line x1="595.4" y1="517" x2="595.4" y2="685" stroke="#6a6a6a" stroke-width="1.5"/>
<line x1="321" y1="517" x2="321" y2="685" stroke="#333" stroke-width="1.6"/>
<line x1="321" y1="685" x2="595.4" y2="685" stroke="#333" stroke-width="1.6"/>
<line x1="318" y1="685.0" x2="321" y2="685.0" stroke="#333" stroke-width="1.2"/>
<line x1="319" y1="671.0" x2="321" y2="671.0" stroke="#333" stroke-width="1"/>
<line x1="318" y1="657.0" x2="321" y2="657.0" stroke="#333" stroke-width="1.2"/>
<line x1="319" y1="643.0" x2="321" y2="643.0" stroke="#333" stroke-width="1"/>
<line x1="318" y1="629.0" x2="321" y2="629.0" stroke="#333" stroke-width="1.2"/>
<line x1="319" y1="615.0" x2="321" y2="615.0" stroke="#333" stroke-width="1"/>
<line x1="318" y1="601.0" x2="321" y2="601.0" stroke="#333" stroke-width="1.2"/>
<line x1="319" y1="587.0" x2="321" y2="587.0" stroke="#333" stroke-width="1"/>
<line x1="318" y1="573.0" x2="321" y2="573.0" stroke="#333" stroke-width="1.2"/>
<line x1="319" y1="559.0" x2="321" y2="559.0" stroke="#333" stroke-width="1"/>
<line x1="318" y1="545.0" x2="321" y2="545.0" stroke="#333" stroke-width="1.2"/>
<line x1="319" y1="531.0" x2="321" y2="531.0" stroke="#333" stroke-width="1"/>
<line x1="318" y1="517.0" x2="321" y2="517.0" stroke="#333" stroke-width="1.2"/>
<line x1="321.0" y1="685" x2="321.0" y2="688" stroke="#333" stroke-width="1.2"/>
<line x1="348.4" y1="685" x2="348.4" y2="687" stroke="#333" stroke-width="1"/>
<line x1="375.9" y1="685" x2="375.9" y2="688" stroke="#333" stroke-width="1.2"/>
<line x1="403.3" y1="685" x2="403.3" y2="687" stroke="#333" stroke-width="1"/>
<line x1="430.8" y1="685" x2="430.8" y2="688" stroke="#333" stroke-width="1.2"/>
<line x1="458.2" y1="685" x2="458.2" y2="687" stroke="#333" stroke-width="1"/>
<line x1="485.6" y1="685" x2="485.6" y2="688" stroke="#333" stroke-width="1.2"/>
<line x1="513.1" y1="685" x2="513.1" y2="687" stroke="#333" stroke-width="1"/>
<line x1="540.5" y1="685" x2="540.5" y2="688" stroke="#333" stroke-width="1.2"/>
<line x1="568.0" y1="685" x2="568.0" y2="687" stroke="#333" stroke-width="1"/>
<line x1="595.4" y1="685" x2="595.4" y2="688" stroke="#333" stroke-width="1.2"/>
<text x="313" y="688.6" font-size="10.5" text-anchor="end" fill="#333" font-family="Liberation Serif" font-weight="bold">0</text>
<text x="313" y="660.6" font-size="10.5" text-anchor="end" fill="#333" font-family="Liberation Serif" font-weight="bold">0.2</text>
<text x="313" y="632.6" font-size="10.5" text-anchor="end" fill="#333" font-family="Liberation Serif" font-weight="bold">0.4</text>
<text x="313" y="604.6" font-size="10.5" text-anchor="end" fill="#333" font-family="Liberation Serif" font-weight="bold">0.6</text>
<text x="313" y="576.6" font-size="10.5" text-anchor="end" fill="#333" font-family="Liberation Serif" font-weight="bold">0.8</text>
<text x="313" y="548.6" font-size="10.5" text-anchor="end" fill="#333" font-family="Liberation Serif" font-weight="bold">1</text>
<text x="313" y="520.6" font-size="10.5" text-anchor="end" fill="#333" font-family="Liberation Serif" font-weight="bold">1.2</text>
<text x="321.0" y="700" font-size="10.5" text-anchor="middle" fill="#333" font-family="Liberation Serif" font-weight="bold">0</text>
<text x="375.9" y="700" font-size="10.5" text-anchor="middle" fill="#333" font-family="Liberation Serif" font-weight="bold">100</text>
<text x="430.8" y="700" font-size="10.5" text-anchor="middle" fill="#333" font-family="Liberation Serif" font-weight="bold">200</text>
<text x="485.6" y="700" font-size="10.5" text-anchor="middle" fill="#333" font-family="Liberation Serif" font-weight="bold">300</text>
<text x="540.5" y="700" font-size="10.5" text-anchor="middle" fill="#333" font-family="Liberation Serif" font-weight="bold">400</text>
<text x="595.4" y="700" font-size="10.5" text-anchor="middle" fill="#333" font-family="Liberation Serif" font-weight="bold">500</text>
<text x="458.2" y="714" font-size="10.5" text-anchor="middle" fill="#3a3a3a" font-family="Liberation Serif" font-weight="bold">Time / sec</text>
<text transform="translate(296.5,601.0) rotate(-90)" font-size="10.5" text-anchor="middle" fill="#3a3a3a" font-family="Liberation Serif">Cell Voltage / V</text>
<path d="M321.0,545.0 L321.2,545.6 L321.4,546.1 L321.6,546.7 L321.7,547.3 L321.9,547.9 L322.1,548.5 L322.3,549.1 L322.5,549.7 L322.7,550.4 L322.9,551.0 L323.0,551.6 L323.2,552.3 L323.4,552.9 L323.6,553.6 L323.8,554.3 L324.0,554.9 L324.2,555.6 L324.3,556.3 L324.5,557.0 L324.7,557.7 L324.9,558.4 L325.1,559.1 L325.3,559.9 L325.5,560.6 L325.7,561.3 L325.8,562.0 L326.0,562.8 L326.2,563.6 L326.4,564.4 L326.6,565.3 L326.8,566.1 L327.0,567.0 L327.1,567.9 L327.3,568.8 L327.5,569.7 L327.7,570.6 L327.9,571.5 L328.1,572.4 L328.3,573.3 L328.4,574.2 L328.6,575.0 L328.8,575.9 L329.0,576.8 L329.2,577.6 L329.4,578.4 L329.6,579.2 L329.7,580.0 L329.9,580.7 L330.1,581.4 L330.3,582.1 L330.5,582.8 L330.7,583.4 L330.9,584.1 L331.0,584.8 L331.2,585.4 L331.4,586.0 L331.6,586.7 L331.8,587.3 L332.0,587.9 L332.0,587.9 L334.2,594.7 L336.4,600.3 L338.6,605.1 L340.8,609.3 L343.0,613.0 L345.3,616.4 L347.5,619.6 L349.7,622.4 L351.9,624.9 L354.1,627.2 L356.3,629.2 L358.5,631.1 L360.8,632.8 L363.0,634.4 L365.2,635.9 L367.4,637.3 L369.6,638.7 L371.8,640.0 L374.0,641.2 L376.2,642.4 L378.5,643.5 L380.7,644.6 L382.9,645.6 L385.1,646.6 L387.3,647.6 L389.5,648.5 L391.7,649.4 L394.0,650.3 L396.2,651.0 L398.4,651.8 L400.6,652.5 L402.8,653.1 L405.0,653.8 L407.2,654.4 L409.5,655.0 L411.7,655.5 L413.9,656.1 L416.1,656.5 L418.3,657.0 L420.5,657.4 L422.7,657.8 L424.9,658.2 L427.2,658.5 L429.4,658.9 L431.6,659.2 L433.8,659.5 L436.0,659.9 L438.2,660.2 L440.4,660.4 L442.7,660.7 L444.9,661.0 L447.1,661.3 L449.3,661.5 L451.5,661.8 L453.7,662.0 L455.9,662.3 L458.2,662.5 L460.4,662.7 L462.6,662.9 L464.8,663.1 L467.0,663.3 L469.2,663.5 L471.4,663.7 L473.6,663.9 L475.9,664.1 L478.1,664.3 L480.3,664.5 L482.5,664.7 L484.7,664.9 L486.9,665.1 L489.1,665.4 L491.4,665.6 L493.6,665.8 L495.8,666.0 L498.0,666.3 L500.2,666.5 L502.4,666.7 L504.6,666.9 L506.9,667.2 L509.1,667.4 L511.3,667.6 L513.5,667.8 L515.7,668.1 L517.9,668.3 L520.1,668.5 L522.3,668.7 L524.6,669.0 L526.8,669.2 L529.0,669.4 L531.2,669.6 L533.4,669.8 L535.6,670.0 L537.8,670.2 L540.1,670.4 L542.3,670.6 L544.5,670.8 L546.7,671.0 L548.9,671.2 L551.1,671.4 L553.3,671.6 L555.6,671.8 L557.8,672.0 L560.0,672.2 L562.2,672.4 L564.4,672.6 L566.6,672.8 L568.8,673.0 L571.0,673.2 L573.3,673.4 L575.5,673.6 L577.7,673.8 L579.9,673.9 L582.1,674.1 L584.3,674.3 L586.5,674.5 L588.8,674.7 L591.0,674.8 L593.2,675.0 L595.4,675.2" fill="none" stroke="#4a7ebb" stroke-width="5.2" stroke-linecap="round" stroke-linejoin="round"/>
<path d="M321.0,547.8 L321.2,549.6 L321.4,551.4 L321.6,553.2 L321.7,555.0 L321.9,556.8 L322.1,558.5 L322.3,560.3 L322.5,562.0 L322.7,563.7 L322.9,565.3 L323.0,567.0 L323.2,568.6 L323.4,570.2 L323.6,571.8 L323.8,573.4 L324.0,574.9 L324.2,576.5 L324.3,578.0 L324.5,579.5 L324.7,581.0 L324.9,582.5 L325.1,584.0 L325.3,585.4 L325.5,586.9 L325.7,588.3 L325.8,589.7 L326.0,591.1 L326.2,592.5 L326.4,593.8 L326.6,595.2 L326.8,596.5 L327.0,597.8 L327.1,599.1 L327.3,600.4 L327.5,601.6 L327.7,602.8 L327.9,604.0 L328.1,605.2 L328.3,606.4 L328.4,607.5 L328.6,608.7 L328.8,609.8 L329.0,610.9 L329.2,612.0 L329.4,613.0 L329.6,614.1 L329.7,615.2 L329.9,616.2 L330.1,617.2 L330.3,618.2 L330.5,619.3 L330.7,620.3 L330.9,621.3 L331.0,622.3 L331.2,623.4 L331.4,624.4 L331.6,625.4 L331.8,626.3 L332.0,627.3 L332.0,627.3 L332.4,629.6 L332.9,631.7 L333.3,633.6 L333.8,635.3 L334.2,637.0 L334.7,638.6 L335.1,640.1 L335.6,641.6 L336.0,643.0 L336.5,644.3 L336.9,645.6 L337.4,646.9 L337.9,648.0 L338.3,649.2 L338.8,650.3 L339.2,651.3 L339.7,652.3 L340.1,653.3 L340.6,654.3 L341.0,655.2 L341.5,656.1 L341.9,657.0 L342.4,657.9 L342.8,658.7 L343.3,659.5 L343.7,660.3 L344.2,661.0 L344.6,661.7 L345.1,662.3 L345.5,662.9 L346.0,663.5 L346.4,664.1 L346.9,664.7 L347.3,665.2 L347.8,665.7 L348.2,666.2 L348.7,666.7 L349.2,667.2 L349.6,667.6 L350.1,668.1 L350.5,668.5 L351.0,668.9 L351.4,669.3 L351.9,669.7 L352.3,670.1 L352.8,670.5 L353.2,670.9 L353.7,671.2 L354.1,671.6 L354.6,671.9 L355.0,672.3 L355.5,672.6 L355.9,672.9 L356.4,673.2 L356.8,673.6 L357.3,673.9 L357.7,674.2 L358.2,674.5 L358.6,674.8 L359.1,675.0 L359.5,675.3 L360.0,675.6 L360.4,675.9 L360.9,676.1 L361.4,676.4 L361.8,676.7 L362.3,676.9 L362.7,677.2 L363.2,677.4 L363.6,677.6 L364.1,677.8 L364.5,678.1 L365.0,678.3 L365.4,678.5 L365.9,678.7 L366.3,678.9 L366.8,679.1 L367.2,679.3 L367.7,679.5 L368.1,679.7 L368.6,679.9 L369.0,680.0 L369.5,680.2 L369.9,680.4 L370.4,680.6 L370.8,680.7 L371.3,680.9 L371.7,681.0 L372.2,681.2 L372.7,681.4 L373.1,681.5 L373.6,681.7 L374.0,681.8 L374.5,682.0 L374.9,682.1 L375.4,682.3 L375.8,682.4 L376.3,682.5 L376.7,682.7 L377.2,682.8 L377.6,682.9 L378.1,683.1 L378.5,683.2 L379.0,683.3 L379.4,683.5 L379.9,683.6 L380.3,683.7 L380.8,683.8 L381.2,683.9 L381.7,684.1 L382.1,684.2 L382.6,684.3 L383.0,684.4 L383.5,684.5 L384.0,684.6 L384.4,684.7 L384.9,684.8 L385.3,684.9 L385.8,685.0" fill="none" stroke="#c0504d" stroke-width="5.2" stroke-linecap="round" stroke-linejoin="round"/>
<path d="M321.0,545.0 L321.2,550.3 L321.4,555.4 L321.6,560.3 L321.7,565.2 L321.9,569.8 L322.1,574.3 L322.3,578.6 L322.5,582.6 L322.7,586.5 L322.9,590.1 L323.0,593.5 L323.2,596.6 L323.4,599.5 L323.6,602.1 L323.8,604.5 L324.0,606.8 L324.2,609.0 L324.3,611.0 L324.5,612.9 L324.7,614.8 L324.9,616.5 L325.1,618.2 L325.3,619.8 L325.5,621.3 L325.7,622.8 L325.8,624.3 L326.0,625.8 L326.2,627.2 L326.4,628.6 L326.6,630.0 L326.8,631.3 L327.0,632.6 L327.1,633.9 L327.3,635.1 L327.5,636.3 L327.7,637.5 L327.9,638.6 L328.1,639.8 L328.3,640.8 L328.4,641.9 L328.6,642.9 L328.8,643.8 L329.0,644.8 L329.2,645.7 L329.4,646.6 L329.6,647.4 L329.7,648.3 L329.9,649.1 L330.1,649.9 L330.3,650.7 L330.5,651.5 L330.7,652.2 L330.9,653.0 L331.0,653.7 L331.2,654.4 L331.4,655.1 L331.6,655.8 L331.8,656.5 L332.0,657.1 L332.0,657.1 L332.2,657.8 L332.4,658.6 L332.6,659.3 L332.8,659.9 L333.0,660.6 L333.2,661.2 L333.5,661.9 L333.7,662.5 L333.9,663.1 L334.1,663.8 L334.3,664.4 L334.5,665.0 L334.7,665.6 L334.9,666.2 L335.2,666.8 L335.4,667.4 L335.6,668.0 L335.8,668.5 L336.0,669.0 L336.2,669.6 L336.4,670.0 L336.6,670.5 L336.9,671.0 L337.1,671.4 L337.3,671.7 L337.5,672.1 L337.7,672.4 L337.9,672.7 L338.1,673.0 L338.3,673.2 L338.6,673.4 L338.8,673.7 L339.0,673.9 L339.2,674.1 L339.4,674.3 L339.6,674.5 L339.8,674.7 L340.0,674.8 L340.2,675.0 L340.5,675.2 L340.7,675.3 L340.9,675.5 L341.1,675.7 L341.3,675.8 L341.5,675.9 L341.7,676.1 L341.9,676.2 L342.2,676.4 L342.4,676.5 L342.6,676.6 L342.8,676.8 L343.0,676.9 L343.2,677.1 L343.4,677.2 L343.6,677.3 L343.9,677.4 L344.1,677.6 L344.3,677.7 L344.5,677.8 L344.7,677.9 L344.9,678.0 L345.1,678.1 L345.3,678.2 L345.6,678.4 L345.8,678.5 L346.0,678.6 L346.2,678.7 L346.4,678.8 L346.6,678.9 L346.8,679.0 L347.0,679.1 L347.3,679.2 L347.5,679.3 L347.7,679.4 L347.9,679.5 L348.1,679.6 L348.3,679.7 L348.5,679.8 L348.7,680.0 L348.9,680.1 L349.2,680.2 L349.4,680.3 L349.6,680.4 L349.8,680.6 L350.0,680.7 L350.2,680.8 L350.4,680.9 L350.6,681.0 L350.9,681.2 L351.1,681.3 L351.3,681.4 L351.5,681.5 L351.7,681.7 L351.9,681.8 L352.1,681.9 L352.3,682.0 L352.6,682.2 L352.8,682.3 L353.0,682.4 L353.2,682.5 L353.4,682.7 L353.6,682.8 L353.8,682.9 L354.0,683.0 L354.3,683.2 L354.5,683.3 L354.7,683.4 L354.9,683.6 L355.1,683.7 L355.3,683.8 L355.5,683.9 L355.7,684.1 L355.9,684.2 L356.2,684.3 L356.4,684.5 L356.6,684.6 L356.8,684.7 L357.0,684.9 L357.2,685.0" fill="none" stroke="#9bbb59" stroke-width="5.2" stroke-linecap="round" stroke-linejoin="round"/>
<path d="M321.0,545.0 L321.2,550.3 L321.4,555.4 L321.6,560.3 L321.7,565.2 L321.9,569.8 L322.1,574.3 L322.3,578.6 L322.5,582.6 L322.7,586.5 L322.9,590.1 L323.0,593.5 L323.2,596.6 L323.4,599.5 L323.6,602.1 L323.8,604.5 L324.0,606.8 L324.2,609.0 L324.3,611.0 L324.5,612.9 L324.7,614.8 L324.9,616.5 L325.1,618.2 L325.3,619.8 L325.5,621.3 L325.7,622.8 L325.8,624.3 L326.0,625.8 L326.2,627.2 L326.4,628.6 L326.6,630.0 L326.8,631.3 L327.0,632.6 L327.1,633.9 L327.3,635.1 L327.5,636.3 L327.7,637.5 L327.9,638.6 L328.1,639.8 L328.3,640.8 L328.4,641.9 L328.6,642.9 L328.8,643.8 L329.0,644.8 L329.2,645.7 L329.4,646.6 L329.6,647.4 L329.7,648.3 L329.9,649.1 L330.1,649.9 L330.3,650.7 L330.5,651.4 L330.7,652.2 L330.9,652.9 L331.0,653.6 L331.2,654.3 L331.4,655.0 L331.6,655.7 L331.8,656.3 L332.0,657.0 L332.0,657.0 L332.1,657.3 L332.1,657.5 L332.2,657.8 L332.3,658.1 L332.4,658.4 L332.5,658.7 L332.6,658.9 L332.6,659.2 L332.7,659.5 L332.8,659.8 L332.9,660.0 L333.0,660.3 L333.1,660.6 L333.1,660.8 L333.2,661.1 L333.3,661.4 L333.4,661.6 L333.5,661.9 L333.6,662.2 L333.6,662.4 L333.7,662.7 L333.8,662.9 L333.9,663.2 L334.0,663.5 L334.1,663.7 L334.1,663.9 L334.2,664.2 L334.3,664.4 L334.4,664.7 L334.5,664.9 L334.5,665.1 L334.6,665.4 L334.7,665.6 L334.8,665.8 L334.9,666.1 L335.0,666.3 L335.0,666.5 L335.1,666.8 L335.2,667.0 L335.3,667.2 L335.4,667.4 L335.5,667.6 L335.5,667.9 L335.6,668.1 L335.7,668.3 L335.8,668.5 L335.9,668.7 L336.0,669.0 L336.0,669.2 L336.1,669.4 L336.2,669.6 L336.3,669.8 L336.4,670.0 L336.5,670.3 L336.5,670.5 L336.6,670.7 L336.7,670.9 L336.8,671.1 L336.9,671.3 L337.0,671.5 L337.0,671.8 L337.1,672.0 L337.2,672.2 L337.3,672.4 L337.4,672.6 L337.5,672.9 L337.5,673.1 L337.6,673.3 L337.7,673.5 L337.8,673.8 L337.9,674.0 L338.0,674.2 L338.0,674.4 L338.1,674.7 L338.2,674.9 L338.3,675.1 L338.4,675.4 L338.5,675.6 L338.5,675.8 L338.6,676.0 L338.7,676.3 L338.8,676.5 L338.9,676.7 L338.9,677.0 L339.0,677.2 L339.1,677.4 L339.2,677.6 L339.3,677.9 L339.4,678.1 L339.4,678.3 L339.5,678.6 L339.6,678.8 L339.7,679.0 L339.8,679.3 L339.9,679.5 L339.9,679.7 L340.0,679.9 L340.1,680.2 L340.2,680.4 L340.3,680.6 L340.4,680.9 L340.4,681.1 L340.5,681.3 L340.6,681.6 L340.7,681.8 L340.8,682.0 L340.9,682.2 L340.9,682.5 L341.0,682.7 L341.1,682.9 L341.2,683.2 L341.3,683.4 L341.4,683.6 L341.4,683.8 L341.5,684.1 L341.6,684.3 L341.7,684.5 L341.8,684.8 L341.9,685.0" fill="none" stroke="#8064a2" stroke-width="5.2" stroke-linecap="round" stroke-linejoin="round"/>
<line x1="508" y1="535.0" x2="517" y2="535.0" stroke="#4a7ebb" stroke-width="1.6" opacity="0.7"/>
<ellipse cx="512.5" cy="535.0" rx="3" ry="2" fill="#4a7ebb"/>
<text x="517" y="538.5" font-size="10.5" fill="#2a2a2a" font-family="Liberation Serif" font-weight="bold">3 m A cm<tspan font-size="6" dy="-4" fill="#bbb">-2</tspan></text>
<line x1="508" y1="549.6" x2="517" y2="549.6" stroke="#c0504d" stroke-width="1.6" opacity="0.7"/>
<ellipse cx="512.5" cy="549.6" rx="3" ry="2" fill="#c0504d"/>
<text x="517" y="553.1" font-size="10.5" fill="#2a2a2a" font-family="Liberation Serif" font-weight="bold">10 m A cm<tspan font-size="6" dy="-4" fill="#bbb">-2</tspan></text>
<line x1="508" y1="564.2" x2="517" y2="564.2" stroke="#9bbb59" stroke-width="1.6" opacity="0.7"/>
<ellipse cx="512.5" cy="564.2" rx="3" ry="2" fill="#9bbb59"/>
<text x="517" y="567.7" font-size="10.5" fill="#2a2a2a" font-family="Liberation Serif" font-weight="bold">14 m A cm<tspan font-size="6" dy="-4" fill="#bbb">-2</tspan></text>
<line x1="508" y1="578.8" x2="517" y2="578.8" stroke="#8064a2" stroke-width="1.6" opacity="0.7"/>
<ellipse cx="512.5" cy="578.8" rx="3" ry="2" fill="#8064a2"/>
<text x="517" y="582.3" font-size="10.5" fill="#2a2a2a" font-family="Liberation Serif" font-weight="bold">20 m A cm<tspan font-size="6" dy="-4" fill="#bbb">-2</tspan></text>
<rect x="981.2" y="516.6" width="275.39999999999986" height="170.10000000000002" fill="#fff"/>
<line x1="981.2" y1="516.6" x2="1256.6" y2="516.6" stroke="#6a6a6a" stroke-width="1.5"/>
<line x1="1256.6" y1="516.6" x2="1256.6" y2="686.7" stroke="#6a6a6a" stroke-width="1.5"/>
<line x1="981.2" y1="516.6" x2="981.2" y2="686.7" stroke="#333" stroke-width="1.6"/>
<line x1="981.2" y1="686.7" x2="1256.6" y2="686.7" stroke="#333" stroke-width="1.6"/>
<line x1="978.2" y1="686.7" x2="981.2" y2="686.7" stroke="#333" stroke-width="1.2"/>
<line x1="979.2" y1="672.5" x2="981.2" y2="672.5" stroke="#333" stroke-width="1"/>
<line x1="978.2" y1="658.4" x2="981.2" y2="658.4" stroke="#333" stroke-width="1.2"/>
<line x1="979.2" y1="644.2" x2="981.2" y2="644.2" stroke="#333" stroke-width="1"/>
<line x1="978.2" y1="630.0" x2="981.2" y2="630.0" stroke="#333" stroke-width="1.2"/>
<line x1="979.2" y1="615.8" x2="981.2" y2="615.8" stroke="#333" stroke-width="1"/>
<line x1="978.2" y1="601.6" x2="981.2" y2="601.6" stroke="#333" stroke-width="1.2"/>
<line x1="979.2" y1="587.5" x2="981.2" y2="587.5" stroke="#333" stroke-width="1"/>
<line x1="978.2" y1="573.3" x2="981.2" y2="573.3" stroke="#333" stroke-width="1.2"/>
<line x1="979.2" y1="559.1" x2="981.2" y2="559.1" stroke="#333" stroke-width="1"/>
<line x1="978.2" y1="545.0" x2="981.2" y2="545.0" stroke="#333" stroke-width="1.2"/>
<line x1="979.2" y1="530.8" x2="981.2" y2="530.8" stroke="#333" stroke-width="1"/>
<line x1="978.2" y1="516.6" x2="981.2" y2="516.6" stroke="#333" stroke-width="1.2"/>
<line x1="981.2" y1="686.7" x2="981.2" y2="689.7" stroke="#333" stroke-width="1.2"/>
<line x1="1008.7" y1="686.7" x2="1008.7" y2="688.7" stroke="#333" stroke-width="1"/>
<line x1="1036.3" y1="686.7" x2="1036.3" y2="689.7" stroke="#333" stroke-width="1.2"/>
<line x1="1063.8" y1="686.7" x2="1063.8" y2="688.7" stroke="#333" stroke-width="1"/>
<line x1="1091.4" y1="686.7" x2="1091.4" y2="689.7" stroke="#333" stroke-width="1.2"/>
<line x1="1118.9" y1="686.7" x2="1118.9" y2="688.7" stroke="#333" stroke-width="1"/>
<line x1="1146.4" y1="686.7" x2="1146.4" y2="689.7" stroke="#333" stroke-width="1.2"/>
<line x1="1174.0" y1="686.7" x2="1174.0" y2="688.7" stroke="#333" stroke-width="1"/>
<line x1="1201.5" y1="686.7" x2="1201.5" y2="689.7" stroke="#333" stroke-width="1.2"/>
<line x1="1229.1" y1="686.7" x2="1229.1" y2="688.7" stroke="#333" stroke-width="1"/>
<line x1="1256.6" y1="686.7" x2="1256.6" y2="689.7" stroke="#333" stroke-width="1.2"/>
<text x="973.2" y="690.3" font-size="10.5" text-anchor="end" fill="#333" font-family="Liberation Serif" font-weight="bold">0</text>
<text x="973.2" y="662.0" font-size="10.5" text-anchor="end" fill="#333" font-family="Liberation Serif" font-weight="bold">0.2</text>
<text x="973.2" y="633.6" font-size="10.5" text-anchor="end" fill="#333" font-family="Liberation Serif" font-weight="bold">0.4</text>
<text x="973.2" y="605.2" font-size="10.5" text-anchor="end" fill="#333" font-family="Liberation Serif" font-weight="bold">0.6</text>
<text x="973.2" y="576.9" font-size="10.5" text-anchor="end" fill="#333" font-family="Liberation Serif" font-weight="bold">0.8</text>
<text x="973.2" y="548.6" font-size="10.5" text-anchor="end" fill="#333" font-family="Liberation Serif" font-weight="bold">1</text>
<text x="973.2" y="520.2" font-size="10.5" text-anchor="end" fill="#333" font-family="Liberation Serif" font-weight="bold">1.2</text>
<text x="981.2" y="701.7" font-size="10.5" text-anchor="middle" fill="#333" font-family="Liberation Serif" font-weight="bold">0</text>
<text x="1036.3" y="701.7" font-size="10.5" text-anchor="middle" fill="#333" font-family="Liberation Serif" font-weight="bold">100</text>
<text x="1091.4" y="701.7" font-size="10.5" text-anchor="middle" fill="#333" font-family="Liberation Serif" font-weight="bold">200</text>
<text x="1146.4" y="701.7" font-size="10.5" text-anchor="middle" fill="#333" font-family="Liberation Serif" font-weight="bold">300</text>
<text x="1201.5" y="701.7" font-size="10.5" text-anchor="middle" fill="#333" font-family="Liberation Serif" font-weight="bold">400</text>
<text x="1256.6" y="701.7" font-size="10.5" text-anchor="middle" fill="#333" font-family="Liberation Serif" font-weight="bold">500</text>
<text x="1118.9" y="715.7" font-size="10.5" text-anchor="middle" fill="#3a3a3a" font-family="Liberation Serif" font-weight="bold">Time / sec</text>
<text transform="translate(956.7,601.7) rotate(-90)" font-size="10.5" text-anchor="middle" fill="#3a3a3a" font-family="Liberation Serif">Cell Voltage / V</text>
<path d="M981.2,546.6 L981.4,546.7 L981.6,546.8 L981.8,546.9 L981.9,547.0 L982.1,547.2 L982.3,547.3 L982.5,547.4 L982.7,547.5 L982.9,547.6 L983.1,547.7 L983.3,547.8 L983.4,548.0 L983.6,548.1 L983.8,548.2 L984.0,548.3 L984.2,548.4 L984.4,548.5 L984.6,548.6 L984.7,548.7 L984.9,548.9 L985.1,549.0 L985.3,549.1 L985.5,549.2 L985.7,549.3 L985.9,549.4 L986.1,549.5 L986.2,549.6 L986.4,549.8 L986.6,549.9 L986.8,550.0 L987.0,550.1 L987.2,550.2 L987.4,550.3 L987.5,550.4 L987.7,550.5 L987.9,550.6 L988.1,550.8 L988.3,550.9 L988.5,551.0 L988.7,551.1 L988.9,551.2 L989.0,551.3 L989.2,551.4 L989.4,551.5 L989.6,551.6 L989.8,551.8 L990.0,551.9 L990.2,552.0 L990.3,552.1 L990.5,552.2 L990.7,552.3 L990.9,552.4 L991.1,552.5 L991.3,552.6 L991.5,552.7 L991.7,552.9 L991.8,553.0 L992.0,553.1 L992.2,553.2 L992.2,553.2 L994.4,554.5 L996.7,555.8 L998.9,557.0 L1001.1,558.3 L1003.3,559.5 L1005.5,560.8 L1007.8,562.0 L1010.0,563.2 L1012.2,564.4 L1014.4,565.6 L1016.7,566.8 L1018.9,567.9 L1021.1,569.1 L1023.3,570.2 L1025.5,571.4 L1027.8,572.5 L1030.0,573.6 L1032.2,574.7 L1034.4,575.8 L1036.7,576.9 L1038.9,577.9 L1041.1,579.0 L1043.3,580.0 L1045.5,581.1 L1047.8,582.1 L1050.0,583.1 L1052.2,584.1 L1054.4,585.1 L1056.6,586.1 L1058.9,587.1 L1061.1,588.1 L1063.3,589.1 L1065.5,590.0 L1067.8,590.9 L1070.0,591.9 L1072.2,592.8 L1074.4,593.7 L1076.6,594.6 L1078.9,595.5 L1081.1,596.4 L1083.3,597.3 L1085.5,598.2 L1087.7,599.1 L1090.0,599.9 L1092.2,600.8 L1094.4,601.6 L1096.6,602.4 L1098.9,603.3 L1101.1,604.1 L1103.3,604.9 L1105.5,605.7 L1107.7,606.5 L1110.0,607.3 L1112.2,608.1 L1114.4,608.8 L1116.6,609.6 L1118.9,610.4 L1121.1,611.1 L1123.3,611.9 L1125.5,612.6 L1127.7,613.3 L1130.0,614.1 L1132.2,614.8 L1134.4,615.5 L1136.6,616.2 L1138.8,616.9 L1141.1,617.6 L1143.3,618.3 L1145.5,619.0 L1147.7,619.6 L1150.0,620.3 L1152.2,621.0 L1154.4,621.6 L1156.6,622.3 L1158.8,622.9 L1161.1,623.6 L1163.3,624.2 L1165.5,624.8 L1167.7,625.5 L1170.0,626.1 L1172.2,626.7 L1174.4,627.3 L1176.6,627.9 L1178.8,628.5 L1181.1,629.1 L1183.3,629.7 L1185.5,630.3 L1187.7,630.9 L1189.9,631.5 L1192.2,632.0 L1194.4,632.6 L1196.6,633.2 L1198.8,633.7 L1201.1,634.3 L1203.3,634.9 L1205.5,635.4 L1207.7,636.0 L1209.9,636.5 L1212.2,637.0 L1214.4,637.6 L1216.6,638.1 L1218.8,638.6 L1221.1,639.2 L1223.3,639.7 L1225.5,640.2 L1227.7,640.7 L1229.9,641.3 L1232.2,641.8 L1234.4,642.3 L1236.6,642.8 L1238.8,643.3 L1241.0,643.8 L1243.3,644.3 L1245.5,644.8 L1247.7,645.3 L1249.9,645.8 L1252.2,646.3 L1254.4,646.8 L1256.6,647.3" fill="none" stroke="#3d68ad" stroke-width="5.2" stroke-linecap="round" stroke-linejoin="round"/>
<path d="M981.2,545.0 L981.4,545.3 L981.6,545.6 L981.8,545.9 L981.9,546.3 L982.1,546.6 L982.3,547.0 L982.5,547.3 L982.7,547.7 L982.9,548.1 L983.1,548.4 L983.3,548.8 L983.4,549.2 L983.6,549.6 L983.8,550.0 L984.0,550.4 L984.2,550.8 L984.4,551.2 L984.6,551.7 L984.7,552.1 L984.9,552.5 L985.1,553.0 L985.3,553.5 L985.5,554.0 L985.7,554.5 L985.9,555.0 L986.1,555.5 L986.2,556.0 L986.4,556.6 L986.6,557.1 L986.8,557.7 L987.0,558.2 L987.2,558.8 L987.4,559.4 L987.5,560.0 L987.7,560.6 L987.9,561.2 L988.1,561.8 L988.3,562.4 L988.5,563.0 L988.7,563.6 L988.9,564.2 L989.0,564.9 L989.2,565.5 L989.4,566.1 L989.6,566.7 L989.8,567.3 L990.0,567.9 L990.2,568.6 L990.3,569.2 L990.5,569.8 L990.7,570.4 L990.9,571.0 L991.1,571.6 L991.3,572.1 L991.5,572.7 L991.7,573.3 L991.8,573.9 L992.0,574.4 L992.2,574.9 L992.2,574.9 L993.0,577.2 L993.8,579.2 L994.7,581.1 L995.5,583.0 L996.3,584.8 L997.1,586.5 L997.9,588.2 L998.7,589.8 L999.5,591.4 L1000.4,593.0 L1001.2,594.5 L1002.0,595.9 L1002.8,597.4 L1003.6,598.8 L1004.4,600.1 L1005.3,601.5 L1006.1,602.8 L1006.9,604.1 L1007.7,605.3 L1008.5,606.5 L1009.3,607.7 L1010.1,608.9 L1011.0,610.0 L1011.8,611.2 L1012.6,612.3 L1013.4,613.3 L1014.2,614.4 L1015.0,615.5 L1015.8,616.5 L1016.7,617.6 L1017.5,618.6 L1018.3,619.6 L1019.1,620.6 L1019.9,621.6 L1020.7,622.5 L1021.5,623.5 L1022.4,624.4 L1023.2,625.3 L1024.0,626.3 L1024.8,627.2 L1025.6,628.0 L1026.4,628.9 L1027.2,629.8 L1028.1,630.7 L1028.9,631.6 L1029.7,632.4 L1030.5,633.3 L1031.3,634.2 L1032.1,635.0 L1032.9,635.8 L1033.8,636.7 L1034.6,637.5 L1035.4,638.3 L1036.2,639.1 L1037.0,640.0 L1037.8,640.8 L1038.6,641.6 L1039.5,642.4 L1040.3,643.2 L1041.1,643.9 L1041.9,644.7 L1042.7,645.5 L1043.5,646.3 L1044.4,647.1 L1045.2,647.8 L1046.0,648.6 L1046.8,649.4 L1047.6,650.1 L1048.4,650.9 L1049.2,651.6 L1050.1,652.3 L1050.9,653.1 L1051.7,653.8 L1052.5,654.5 L1053.3,655.3 L1054.1,656.0 L1054.9,656.7 L1055.8,657.4 L1056.6,658.1 L1057.4,658.9 L1058.2,659.6 L1059.0,660.3 L1059.8,661.0 L1060.6,661.8 L1061.5,662.5 L1062.3,663.2 L1063.1,664.0 L1063.9,664.7 L1064.7,665.4 L1065.5,666.2 L1066.3,666.9 L1067.2,667.7 L1068.0,668.4 L1068.8,669.2 L1069.6,669.9 L1070.4,670.6 L1071.2,671.4 L1072.0,672.1 L1072.9,672.8 L1073.7,673.6 L1074.5,674.3 L1075.3,675.0 L1076.1,675.7 L1076.9,676.4 L1077.8,677.1 L1078.6,677.8 L1079.4,678.5 L1080.2,679.2 L1081.0,679.9 L1081.8,680.6 L1082.6,681.3 L1083.5,682.0 L1084.3,682.7 L1085.1,683.3 L1085.9,684.0 L1086.7,684.7 L1087.5,685.4 L1088.3,686.0 L1089.2,686.7" fill="none" stroke="#c0504d" stroke-width="5.2" stroke-linecap="round" stroke-linejoin="round"/>
<path d="M981.2,545.0 L981.4,545.9 L981.6,546.9 L981.8,547.9 L981.9,548.8 L982.1,549.8 L982.3,550.8 L982.5,551.7 L982.7,552.6 L982.9,553.6 L983.1,554.5 L983.3,555.4 L983.4,556.3 L983.6,557.2 L983.8,558.1 L984.0,559.0 L984.2,559.9 L984.4,560.7 L984.6,561.6 L984.7,562.4 L984.9,563.2 L985.1,564.0 L985.3,564.8 L985.5,565.6 L985.7,566.4 L985.9,567.1 L986.1,567.9 L986.2,568.6 L986.4,569.3 L986.6,570.0 L986.8,570.7 L987.0,571.4 L987.2,572.1 L987.4,572.7 L987.5,573.4 L987.7,574.0 L987.9,574.7 L988.1,575.3 L988.3,575.9 L988.5,576.6 L988.7,577.2 L988.9,577.8 L989.0,578.4 L989.2,579.0 L989.4,579.6 L989.6,580.2 L989.8,580.8 L990.0,581.3 L990.2,581.9 L990.3,582.5 L990.5,583.0 L990.7,583.6 L990.9,584.2 L991.1,584.7 L991.3,585.2 L991.5,585.8 L991.7,586.3 L991.8,586.8 L992.0,587.4 L992.2,587.9 L992.2,587.9 L992.7,589.2 L993.2,590.5 L993.7,591.8 L994.1,593.1 L994.6,594.3 L995.1,595.6 L995.6,596.8 L996.1,598.0 L996.5,599.1 L997.0,600.3 L997.5,601.4 L998.0,602.5 L998.5,603.6 L999.0,604.7 L999.4,605.8 L999.9,606.8 L1000.4,607.9 L1000.9,608.9 L1001.4,609.9 L1001.8,610.9 L1002.3,611.9 L1002.8,612.9 L1003.3,613.8 L1003.8,614.8 L1004.3,615.8 L1004.7,616.7 L1005.2,617.7 L1005.7,618.7 L1006.2,619.6 L1006.7,620.6 L1007.1,621.6 L1007.6,622.5 L1008.1,623.5 L1008.6,624.4 L1009.1,625.3 L1009.5,626.3 L1010.0,627.2 L1010.5,628.1 L1011.0,629.1 L1011.5,630.0 L1012.0,630.9 L1012.4,631.8 L1012.9,632.7 L1013.4,633.6 L1013.9,634.4 L1014.4,635.3 L1014.8,636.2 L1015.3,637.0 L1015.8,637.9 L1016.3,638.7 L1016.8,639.6 L1017.2,640.4 L1017.7,641.2 L1018.2,642.0 L1018.7,642.8 L1019.2,643.6 L1019.7,644.4 L1020.1,645.2 L1020.6,645.9 L1021.1,646.7 L1021.6,647.5 L1022.1,648.2 L1022.5,648.9 L1023.0,649.7 L1023.5,650.4 L1024.0,651.1 L1024.5,651.9 L1024.9,652.6 L1025.4,653.3 L1025.9,654.0 L1026.4,654.7 L1026.9,655.4 L1027.4,656.1 L1027.8,656.8 L1028.3,657.5 L1028.8,658.2 L1029.3,658.9 L1029.8,659.6 L1030.2,660.2 L1030.7,660.9 L1031.2,661.6 L1031.7,662.3 L1032.2,663.0 L1032.7,663.7 L1033.1,664.4 L1033.6,665.0 L1034.1,665.7 L1034.6,666.4 L1035.1,667.1 L1035.5,667.8 L1036.0,668.5 L1036.5,669.1 L1037.0,669.8 L1037.5,670.5 L1037.9,671.2 L1038.4,671.8 L1038.9,672.5 L1039.4,673.2 L1039.9,673.8 L1040.4,674.5 L1040.8,675.1 L1041.3,675.8 L1041.8,676.5 L1042.3,677.1 L1042.8,677.8 L1043.2,678.4 L1043.7,679.1 L1044.2,679.7 L1044.7,680.4 L1045.2,681.0 L1045.6,681.6 L1046.1,682.3 L1046.6,682.9 L1047.1,683.6 L1047.6,684.2 L1048.1,684.8 L1048.5,685.4 L1049.0,686.1 L1049.5,686.7" fill="none" stroke="#9bbb59" stroke-width="5.2" stroke-linecap="round" stroke-linejoin="round"/>
<path d="M981.2,545.0 L981.4,546.4 L981.6,547.9 L981.8,549.3 L981.9,550.8 L982.1,552.2 L982.3,553.6 L982.5,555.0 L982.7,556.4 L982.9,557.8 L983.1,559.1 L983.3,560.4 L983.4,561.7 L983.6,563.0 L983.8,564.2 L984.0,565.4 L984.2,566.6 L984.4,567.7 L984.6,568.8 L984.7,569.9 L984.9,570.9 L985.1,572.0 L985.3,573.0 L985.5,574.0 L985.7,575.0 L985.9,575.9 L986.1,576.9 L986.2,577.8 L986.4,578.8 L986.6,579.7 L986.8,580.6 L987.0,581.5 L987.2,582.4 L987.4,583.3 L987.5,584.2 L987.7,585.0 L987.9,585.9 L988.1,586.7 L988.3,587.6 L988.5,588.4 L988.7,589.2 L988.9,590.0 L989.0,590.8 L989.2,591.6 L989.4,592.3 L989.6,593.1 L989.8,593.9 L990.0,594.6 L990.2,595.3 L990.3,596.1 L990.5,596.8 L990.7,597.5 L990.9,598.2 L991.1,598.9 L991.3,599.6 L991.5,600.3 L991.7,601.0 L991.8,601.7 L992.0,602.4 L992.2,603.0 L992.2,603.0 L992.5,604.0 L992.8,605.0 L993.0,605.9 L993.3,606.8 L993.6,607.8 L993.9,608.7 L994.2,609.6 L994.4,610.5 L994.7,611.3 L995.0,612.2 L995.3,613.0 L995.5,613.9 L995.8,614.7 L996.1,615.5 L996.4,616.3 L996.7,617.1 L996.9,617.9 L997.2,618.7 L997.5,619.5 L997.8,620.3 L998.0,621.1 L998.3,621.8 L998.6,622.6 L998.9,623.3 L999.2,624.1 L999.4,624.9 L999.7,625.6 L1000.0,626.3 L1000.3,627.1 L1000.5,627.8 L1000.8,628.6 L1001.1,629.3 L1001.4,630.0 L1001.7,630.7 L1001.9,631.5 L1002.2,632.2 L1002.5,632.9 L1002.8,633.6 L1003.0,634.2 L1003.3,634.9 L1003.6,635.6 L1003.9,636.3 L1004.2,637.0 L1004.4,637.6 L1004.7,638.3 L1005.0,638.9 L1005.3,639.6 L1005.5,640.2 L1005.8,640.9 L1006.1,641.5 L1006.4,642.2 L1006.7,642.8 L1006.9,643.5 L1007.2,644.1 L1007.5,644.7 L1007.8,645.4 L1008.0,646.0 L1008.3,646.6 L1008.6,647.3 L1008.9,647.9 L1009.2,648.6 L1009.4,649.2 L1009.7,649.8 L1010.0,650.5 L1010.3,651.1 L1010.5,651.7 L1010.8,652.3 L1011.1,652.9 L1011.4,653.5 L1011.7,654.1 L1011.9,654.7 L1012.2,655.3 L1012.5,655.9 L1012.8,656.5 L1013.0,657.1 L1013.3,657.7 L1013.6,658.3 L1013.9,658.9 L1014.2,659.5 L1014.4,660.1 L1014.7,660.6 L1015.0,661.2 L1015.3,661.8 L1015.5,662.4 L1015.8,663.0 L1016.1,663.7 L1016.4,664.3 L1016.7,664.9 L1016.9,665.5 L1017.2,666.1 L1017.5,666.8 L1017.8,667.4 L1018.0,668.1 L1018.3,668.7 L1018.6,669.4 L1018.9,670.0 L1019.2,670.7 L1019.4,671.4 L1019.7,672.1 L1020.0,672.8 L1020.3,673.5 L1020.5,674.2 L1020.8,674.9 L1021.1,675.6 L1021.4,676.3 L1021.7,677.0 L1021.9,677.7 L1022.2,678.5 L1022.5,679.2 L1022.8,679.9 L1023.0,680.7 L1023.3,681.4 L1023.6,682.1 L1023.9,682.9 L1024.2,683.7 L1024.4,684.4 L1024.7,685.2 L1025.0,685.9 L1025.3,686.7" fill="none" stroke="#8064a2" stroke-width="5.2" stroke-linecap="round" stroke-linejoin="round"/>
<path d="M981.2,545.0 L981.4,547.5 L981.6,550.0 L981.8,552.5 L981.9,554.9 L982.1,557.4 L982.3,559.8 L982.5,562.1 L982.7,564.5 L982.9,566.8 L983.1,569.1 L983.3,571.3 L983.4,573.5 L983.6,575.7 L983.8,577.8 L984.0,579.9 L984.2,581.9 L984.4,583.9 L984.6,585.8 L984.7,587.7 L984.9,589.5 L985.1,591.3 L985.3,593.1 L985.5,594.9 L985.7,596.6 L985.9,598.3 L986.1,600.0 L986.2,601.6 L986.4,603.2 L986.6,604.9 L986.8,606.4 L987.0,608.0 L987.2,609.5 L987.4,611.1 L987.5,612.6 L987.7,614.1 L987.9,615.5 L988.1,617.0 L988.3,618.5 L988.5,619.9 L988.7,621.3 L988.9,622.7 L989.0,624.1 L989.2,625.5 L989.4,626.9 L989.6,628.3 L989.8,629.7 L990.0,631.1 L990.2,632.5 L990.3,633.8 L990.5,635.2 L990.7,636.5 L990.9,637.9 L991.1,639.2 L991.3,640.5 L991.5,641.8 L991.7,643.1 L991.8,644.4 L992.0,645.7 L992.2,646.9 L992.2,646.9 L992.3,647.3 L992.3,647.7 L992.4,648.1 L992.4,648.4 L992.5,648.8 L992.6,649.2 L992.6,649.6 L992.7,649.9 L992.7,650.3 L992.8,650.7 L992.8,651.1 L992.9,651.4 L993.0,651.8 L993.0,652.2 L993.1,652.5 L993.1,652.9 L993.2,653.3 L993.2,653.6 L993.3,654.0 L993.3,654.4 L993.4,654.7 L993.5,655.1 L993.5,655.5 L993.6,655.8 L993.6,656.2 L993.7,656.5 L993.7,656.9 L993.8,657.3 L993.9,657.6 L993.9,658.0 L994.0,658.3 L994.0,658.7 L994.1,659.0 L994.1,659.4 L994.2,659.8 L994.2,660.1 L994.3,660.5 L994.4,660.8 L994.4,661.2 L994.5,661.5 L994.5,661.9 L994.6,662.2 L994.6,662.6 L994.7,662.9 L994.8,663.2 L994.8,663.6 L994.9,663.9 L994.9,664.3 L995.0,664.6 L995.0,665.0 L995.1,665.3 L995.2,665.7 L995.2,666.0 L995.3,666.3 L995.3,666.7 L995.4,667.0 L995.4,667.4 L995.5,667.7 L995.5,668.0 L995.6,668.4 L995.7,668.7 L995.7,669.0 L995.8,669.4 L995.8,669.7 L995.9,670.0 L995.9,670.4 L996.0,670.7 L996.1,671.0 L996.1,671.3 L996.2,671.7 L996.2,672.0 L996.3,672.3 L996.3,672.7 L996.4,673.0 L996.5,673.3 L996.5,673.6 L996.6,673.9 L996.6,674.3 L996.7,674.6 L996.7,674.9 L996.8,675.2 L996.8,675.5 L996.9,675.9 L997.0,676.2 L997.0,676.5 L997.1,676.8 L997.1,677.1 L997.2,677.4 L997.2,677.7 L997.3,678.0 L997.4,678.4 L997.4,678.7 L997.5,679.0 L997.5,679.3 L997.6,679.6 L997.6,679.9 L997.7,680.2 L997.7,680.5 L997.8,680.8 L997.9,681.1 L997.9,681.4 L998.0,681.7 L998.0,682.0 L998.1,682.3 L998.1,682.6 L998.2,682.9 L998.3,683.2 L998.3,683.5 L998.4,683.8 L998.4,684.1 L998.5,684.4 L998.5,684.7 L998.6,685.0 L998.7,685.3 L998.7,685.5 L998.8,685.8 L998.8,686.1 L998.9,686.4 L998.9,686.7" fill="none" stroke="#4bacc6" stroke-width="5.2" stroke-linecap="round" stroke-linejoin="round"/>
<path d="M981.2,540.7 L981.4,545.7 L981.5,550.7 L981.7,555.5 L981.9,560.3 L982.0,564.9 L982.2,569.4 L982.4,573.7 L982.5,577.8 L982.7,581.7 L982.9,585.2 L983.0,588.6 L983.2,591.7 L983.3,594.8 L983.5,597.7 L983.7,600.6 L983.8,603.4 L984.0,606.1 L984.2,608.7 L984.3,611.3 L984.5,613.7 L984.7,616.1 L984.8,618.5 L985.0,620.8 L985.2,623.1 L985.3,625.3 L985.5,627.4 L985.7,629.6 L985.8,631.7 L986.0,633.8 L986.2,635.9 L986.3,637.9 L986.5,640.0 L986.7,642.0 L986.8,644.0 L987.0,646.0 L987.1,648.0 L987.3,650.0 L987.5,651.9 L987.6,653.8 L987.8,655.7 L988.0,657.6 L988.1,659.5 L988.3,661.3 L988.5,663.1 L988.6,664.9 L988.8,666.6 L989.0,668.3 L989.1,670.0 L989.3,671.7 L989.5,673.4 L989.6,675.0 L989.8,676.6 L990.0,678.1 L990.1,679.6 L990.3,681.1 L990.5,682.6 L990.6,684.0 L990.8,685.4 L990.9,686.7 L990.9,686.7 L990.9,686.7 L990.9,686.7 L990.9,686.7 L990.9,686.7 L990.9,686.7 L990.9,686.7 L990.9,686.7 L990.9,686.7 L990.9,686.7 L990.9,686.7 L990.9,686.7 L990.9,686.7 L990.9,686.7 L990.9,686.7 L990.9,686.7 L990.9,686.7 L990.9,686.7 L990.9,686.7 L990.9,686.7 L990.9,686.7 L990.9,686.7 L990.9,686.7 L990.9,686.7 L990.9,686.7 L990.9,686.7 L990.9,686.7 L990.9,686.7 L990.9,686.7 L990.9,686.7 L990.9,686.7 L990.9,686.7 L990.9,686.7 L990.9,686.7 L990.9,686.7 L990.9,686.7 L990.9,686.7 L990.9,686.7 L990.9,686.7 L990.9,686.7 L990.9,686.7 L990.9,686.7 L990.9,686.7 L990.9,686.7 L990.9,686.7 L990.9,686.7 L990.9,686.7 L990.9,686.7 L990.9,686.7 L990.9,686.7 L990.9,686.7 L990.9,686.7 L990.9,686.7 L990.9,686.7 L990.9,686.7 L990.9,686.7 L990.9,686.7 L990.9,686.7 L990.9,686.7 L990.9,686.7 L990.9,686.7 L990.9,686.7 L990.9,686.7 L990.9,686.7 L990.9,686.7 L990.9,686.7 L990.9,686.7 L990.9,686.7 L990.9,686.7 L990.9,686.7 L990.9,686.7 L990.9,686.7 L990.9,686.7 L990.9,686.7 L990.9,686.7 L990.9,686.7 L990.9,686.7 L990.9,686.7 L990.9,686.7 L990.9,686.7 L990.9,686.7 L990.9,686.7 L990.9,686.7 L990.9,686.7 L990.9,686.7 L990.9,686.7 L990.9,686.7 L990.9,686.7 L990.9,686.7 L990.9,686.7 L990.9,686.7 L990.9,686.7 L990.9,686.7 L990.9,686.7 L990.9,686.7 L990.9,686.7 L990.9,686.7 L990.9,686.7 L990.9,686.7 L990.9,686.7 L990.9,686.7 L990.9,686.7 L990.9,686.7 L990.9,686.7 L990.9,686.7 L990.9,686.7 L990.9,686.7 L990.9,686.7 L990.9,686.7 L990.9,686.7 L990.9,686.7 L990.9,686.7 L990.9,686.7 L990.9,686.7 L990.9,686.7 L990.9,686.7 L990.9,686.7 L990.9,686.7 L990.9,686.7 L990.9,686.7" fill="none" stroke="#f79646" stroke-width="5.2" stroke-linecap="round" stroke-linejoin="round"/>
<line x1="1172" y1="530.0" x2="1181" y2="530.0" stroke="#3d68ad" stroke-width="1.6" opacity="0.7"/>
<ellipse cx="1176.5" cy="530.0" rx="3" ry="2" fill="#3d68ad"/>
<text x="1181" y="533.5" font-size="10.5" fill="#2a2a2a" font-family="Liberation Serif" font-weight="bold">3 m A cm<tspan font-size="6" dy="-4" fill="#bbb">-2</tspan></text>
<line x1="1172" y1="544.6" x2="1181" y2="544.6" stroke="#c0504d" stroke-width="1.6" opacity="0.7"/>
<ellipse cx="1176.5" cy="544.6" rx="3" ry="2" fill="#c0504d"/>
<text x="1181" y="548.1" font-size="10.5" fill="#2a2a2a" font-family="Liberation Serif" font-weight="bold">10 m A cm<tspan font-size="6" dy="-4" fill="#bbb">-2</tspan></text>
<line x1="1172" y1="559.2" x2="1181" y2="559.2" stroke="#9bbb59" stroke-width="1.6" opacity="0.7"/>
<ellipse cx="1176.5" cy="559.2" rx="3" ry="2" fill="#9bbb59"/>
<text x="1181" y="562.7" font-size="10.5" fill="#2a2a2a" font-family="Liberation Serif" font-weight="bold">14 m A cm<tspan font-size="6" dy="-4" fill="#bbb">-2</tspan></text>
<line x1="1172" y1="573.8" x2="1181" y2="573.8" stroke="#8064a2" stroke-width="1.6" opacity="0.7"/>
<ellipse cx="1176.5" cy="573.8" rx="3" ry="2" fill="#8064a2"/>
<text x="1181" y="577.3" font-size="10.5" fill="#2a2a2a" font-family="Liberation Serif" font-weight="bold">20 m A cm<tspan font-size="6" dy="-4" fill="#bbb">-2</tspan></text>
<line x1="1172" y1="588.4" x2="1181" y2="588.4" stroke="#4bacc6" stroke-width="1.6" opacity="0.7"/>
<ellipse cx="1176.5" cy="588.4" rx="3" ry="2" fill="#4bacc6"/>
<text x="1181" y="591.9" font-size="10.5" fill="#2a2a2a" font-family="Liberation Serif" font-weight="bold">40 m A cm<tspan font-size="6" dy="-4" fill="#bbb">-2</tspan></text>
<line x1="1172" y1="603.0" x2="1181" y2="603.0" stroke="#f79646" stroke-width="1.6" opacity="0.7"/>
<ellipse cx="1176.5" cy="603.0" rx="3" ry="2" fill="#f79646"/>
<text x="1181" y="606.5" font-size="10.5" fill="#2a2a2a" font-family="Liberation Serif" font-weight="bold">60 m A cm<tspan font-size="6" dy="-4" fill="#bbb">-2</tspan></text>
</svg></body></html>
